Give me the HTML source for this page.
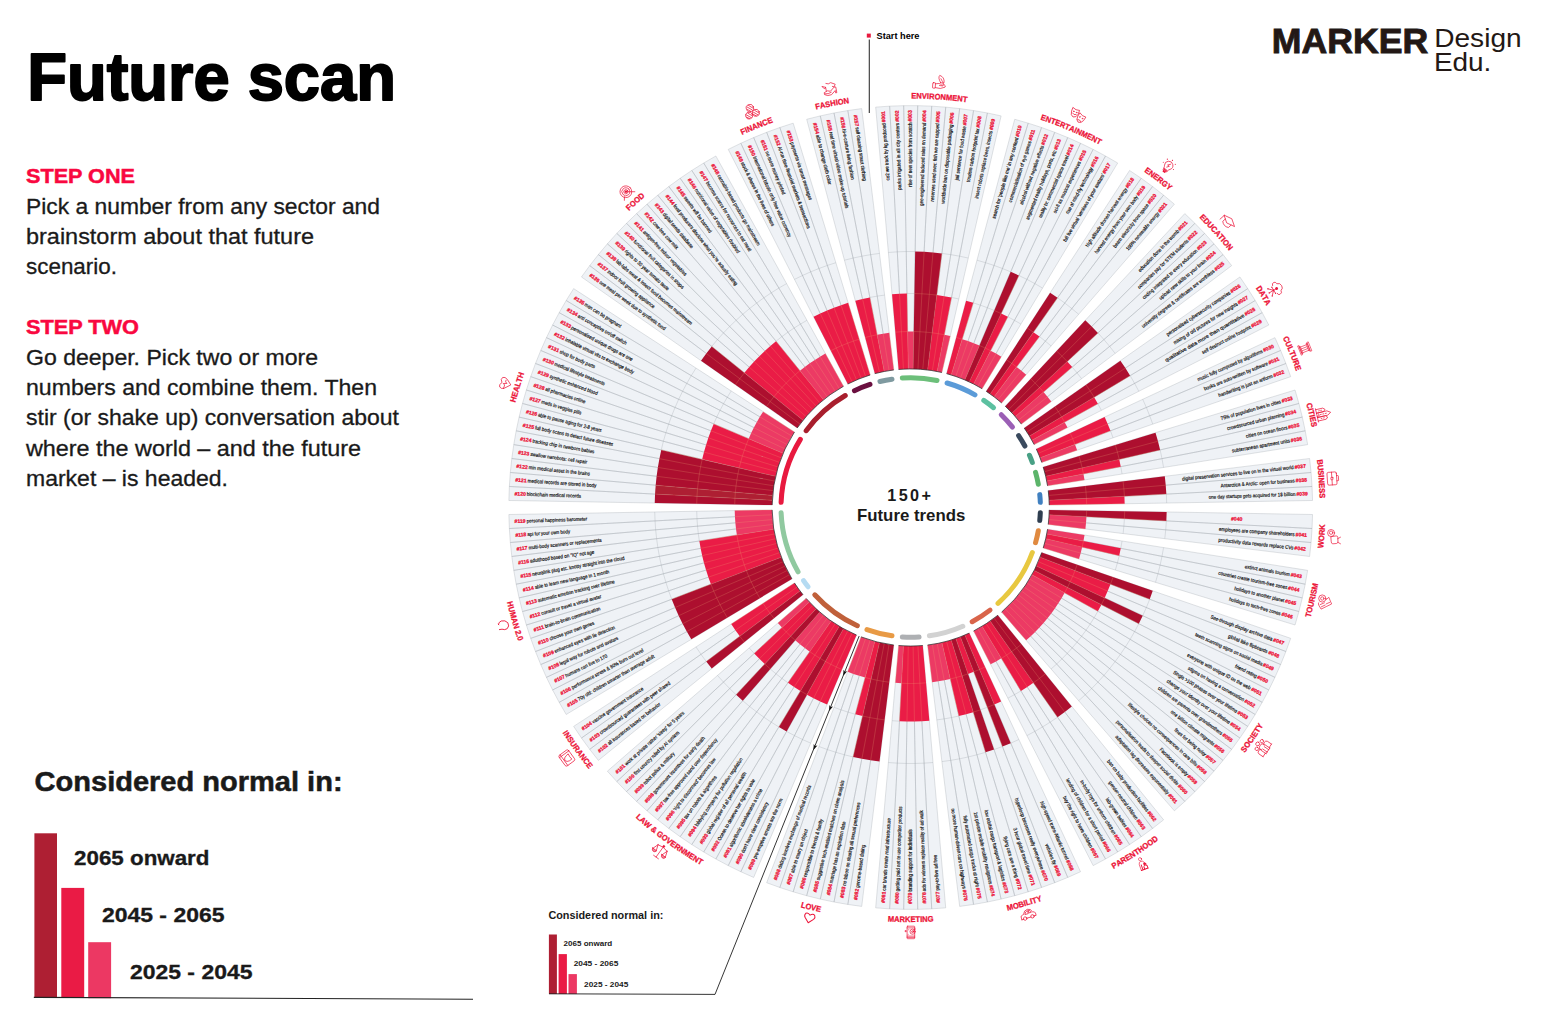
<!DOCTYPE html>
<html lang="en"><head><meta charset="utf-8"><title>Future scan</title>
<style>
html,body{margin:0;padding:0;background:#fff;}
body{width:1544px;height:1022px;overflow:hidden;font-family:"Liberation Sans",sans-serif;}
svg{display:block;font-family:"Liberation Sans",sans-serif;}
.lab .n{font-size:5.1px;font-weight:700;fill:#ec1237;stroke:#ec1237;stroke-width:0.26px;}
.lab .t{font-size:5.1px;fill:#111;stroke:#111;stroke-width:0.18px;}
.sn{font-size:8px;font-weight:700;fill:#ec1237;stroke:#ec1237;stroke-width:0.28px;}
.ic{fill:none;stroke:#ec1237;stroke-width:0.68;stroke-linecap:round;stroke-linejoin:round;}
</style></head><body>
<svg width="1544" height="1022" viewBox="0 0 1544 1022">
<rect width="1544" height="1022" fill="#fff"/>
<g id="chart">
<path d="M898.62,369.43 L875.67,107.13 L889.67,106.15 L903.45,369.09Z M903.45,369.09 L889.67,106.15 L903.69,105.66 L908.28,368.92Z M908.28,368.92 L903.69,105.66 L917.71,105.66 L913.12,368.92Z M913.12,368.92 L917.71,105.66 L931.73,106.15 L917.95,369.09Z M917.95,369.09 L931.73,106.15 L945.73,107.13 L922.78,369.43Z M922.78,369.43 L945.73,107.13 L959.68,108.6 L927.59,369.93Z M927.59,369.93 L959.68,108.6 L973.57,110.55 L932.38,370.61Z M932.38,370.61 L973.57,110.55 L987.39,112.98 L937.15,371.45Z M937.15,371.45 L987.39,112.98 L1001.11,115.9 L941.88,372.45Z M946.57,373.62 L1014.72,119.29 L1028.2,123.16 L951.22,374.96Z M951.22,374.96 L1028.2,123.16 L1041.55,127.5 L955.82,376.45Z M955.82,376.45 L1041.55,127.5 L1054.73,132.29 L960.37,378.11Z M960.37,378.11 L1054.73,132.29 L1067.73,137.55 L964.86,379.92Z M964.86,379.92 L1067.73,137.55 L1080.55,143.25 L969.27,381.89Z M969.27,381.89 L1080.55,143.25 L1093.16,149.4 L973.62,384.01Z M973.62,384.01 L1093.16,149.4 L1105.54,155.99 L977.89,386.28Z M977.89,386.28 L1105.54,155.99 L1117.69,163 L982.08,388.7Z M986.19,391.26 L1129.59,170.44 L1141.22,178.28 L990.2,393.97Z M990.2,393.97 L1141.22,178.28 L1152.57,186.53 L994.11,396.81Z M994.11,396.81 L1152.57,186.53 L1163.62,195.17 L997.92,399.79Z M997.92,399.79 L1163.62,195.17 L1174.37,204.18 L1001.63,402.9Z M1005.22,406.13 L1184.8,213.57 L1194.89,223.31 L1008.7,409.5Z M1008.7,409.5 L1194.89,223.31 L1204.63,233.4 L1012.07,412.98Z M1012.07,412.98 L1204.63,233.4 L1214.02,243.83 L1015.3,416.57Z M1015.3,416.57 L1214.02,243.83 L1223.03,254.58 L1018.41,420.28Z M1018.41,420.28 L1223.03,254.58 L1231.67,265.63 L1021.39,424.09Z M1024.23,428 L1239.92,276.98 L1247.76,288.61 L1026.94,432.01Z M1026.94,432.01 L1247.76,288.61 L1255.2,300.51 L1029.5,436.12Z M1029.5,436.12 L1255.2,300.51 L1262.21,312.66 L1031.92,440.31Z M1031.92,440.31 L1262.21,312.66 L1268.8,325.04 L1034.19,444.58Z M1036.31,448.93 L1274.95,337.65 L1280.65,350.47 L1038.28,453.34Z M1038.28,453.34 L1280.65,350.47 L1285.91,363.47 L1040.09,457.83Z M1040.09,457.83 L1285.91,363.47 L1290.7,376.65 L1041.75,462.38Z M1043.24,466.98 L1295.04,390 L1298.91,403.48 L1044.58,471.63Z M1044.58,471.63 L1298.91,403.48 L1302.3,417.09 L1045.75,476.32Z M1045.75,476.32 L1302.3,417.09 L1305.22,430.81 L1046.75,481.05Z M1046.75,481.05 L1305.22,430.81 L1307.65,444.63 L1047.59,485.82Z M1048.27,490.61 L1309.6,458.52 L1311.07,472.47 L1048.77,495.42Z M1048.77,495.42 L1311.07,472.47 L1312.05,486.47 L1049.11,500.25Z M1049.11,500.25 L1312.05,486.47 L1312.54,500.49 L1049.28,505.08Z M1049.28,509.92 L1312.54,514.51 L1312.05,528.53 L1049.11,514.75Z M1049.11,514.75 L1312.05,528.53 L1311.07,542.53 L1048.77,519.58Z M1048.77,519.58 L1311.07,542.53 L1309.6,556.48 L1048.27,524.39Z M1047.59,529.18 L1307.65,570.37 L1305.22,584.19 L1046.75,533.95Z M1046.75,533.95 L1305.22,584.19 L1302.3,597.91 L1045.75,538.68Z M1045.75,538.68 L1302.3,597.91 L1298.91,611.52 L1044.58,543.37Z M1044.58,543.37 L1298.91,611.52 L1295.04,625 L1043.24,548.02Z M1041.75,552.62 L1290.7,638.35 L1285.91,651.53 L1040.09,557.17Z M1040.09,557.17 L1285.91,651.53 L1280.65,664.53 L1038.28,561.66Z M1038.28,561.66 L1280.65,664.53 L1274.95,677.35 L1036.31,566.07Z M1036.31,566.07 L1274.95,677.35 L1268.8,689.96 L1034.19,570.42Z M1034.19,570.42 L1268.8,689.96 L1262.21,702.34 L1031.92,574.69Z M1031.92,574.69 L1262.21,702.34 L1255.2,714.49 L1029.5,578.88Z M1029.5,578.88 L1255.2,714.49 L1247.76,726.39 L1026.94,582.99Z M1026.94,582.99 L1247.76,726.39 L1239.92,738.02 L1024.23,587Z M1024.23,587 L1239.92,738.02 L1231.67,749.37 L1021.39,590.91Z M1021.39,590.91 L1231.67,749.37 L1223.03,760.42 L1018.41,594.72Z M1018.41,594.72 L1223.03,760.42 L1214.02,771.17 L1015.3,598.43Z M1015.3,598.43 L1214.02,771.17 L1204.63,781.6 L1012.07,602.02Z M1012.07,602.02 L1204.63,781.6 L1194.89,791.69 L1008.7,605.5Z M1008.7,605.5 L1194.89,791.69 L1184.8,801.43 L1005.22,608.87Z M1005.22,608.87 L1184.8,801.43 L1174.37,810.82 L1001.63,612.1Z M997.92,615.21 L1163.62,819.83 L1152.57,828.47 L994.11,618.19Z M994.11,618.19 L1152.57,828.47 L1141.22,836.72 L990.2,621.03Z M990.2,621.03 L1141.22,836.72 L1129.59,844.56 L986.19,623.74Z M986.19,623.74 L1129.59,844.56 L1117.69,852 L982.08,626.3Z M982.08,626.3 L1117.69,852 L1105.54,859.01 L977.89,628.72Z M977.89,628.72 L1105.54,859.01 L1093.16,865.6 L973.62,630.99Z M969.27,633.11 L1080.55,871.75 L1067.73,877.45 L964.86,635.08Z M964.86,635.08 L1067.73,877.45 L1054.73,882.71 L960.37,636.89Z M960.37,636.89 L1054.73,882.71 L1041.55,887.5 L955.82,638.55Z M955.82,638.55 L1041.55,887.5 L1028.2,891.84 L951.22,640.04Z M951.22,640.04 L1028.2,891.84 L1014.72,895.71 L946.57,641.38Z M946.57,641.38 L1014.72,895.71 L1001.11,899.1 L941.88,642.55Z M941.88,642.55 L1001.11,899.1 L987.39,902.02 L937.15,643.55Z M937.15,643.55 L987.39,902.02 L973.57,904.45 L932.38,644.39Z M932.38,644.39 L973.57,904.45 L959.68,906.4 L927.59,645.07Z M922.78,645.57 L945.73,907.87 L931.73,908.85 L917.95,645.91Z M917.95,645.91 L931.73,908.85 L917.71,909.34 L913.12,646.08Z M913.12,646.08 L917.71,909.34 L903.69,909.34 L908.28,646.08Z M908.28,646.08 L903.69,909.34 L889.67,908.85 L903.45,645.91Z M903.45,645.91 L889.67,908.85 L875.67,907.87 L898.62,645.57Z M893.81,645.07 L861.72,906.4 L847.83,904.45 L889.02,644.39Z M889.02,644.39 L847.83,904.45 L834.01,902.02 L884.25,643.55Z M884.25,643.55 L834.01,902.02 L820.29,899.1 L879.52,642.55Z M879.52,642.55 L820.29,899.1 L806.68,895.71 L874.83,641.38Z M874.83,641.38 L806.68,895.71 L793.2,891.84 L870.18,640.04Z M870.18,640.04 L793.2,891.84 L779.85,887.5 L865.58,638.55Z M865.58,638.55 L779.85,887.5 L766.67,882.71 L861.03,636.89Z M856.54,635.08 L753.67,877.45 L740.85,871.75 L852.13,633.11Z M852.13,633.11 L740.85,871.75 L728.24,865.6 L847.78,630.99Z M847.78,630.99 L728.24,865.6 L715.86,859.01 L843.51,628.72Z M843.51,628.72 L715.86,859.01 L703.71,852 L839.32,626.3Z M839.32,626.3 L703.71,852 L691.81,844.56 L835.21,623.74Z M835.21,623.74 L691.81,844.56 L680.18,836.72 L831.2,621.03Z M831.2,621.03 L680.18,836.72 L668.83,828.47 L827.29,618.19Z M827.29,618.19 L668.83,828.47 L657.78,819.83 L823.48,615.21Z M823.48,615.21 L657.78,819.83 L647.03,810.82 L819.77,612.1Z M819.77,612.1 L647.03,810.82 L636.6,801.43 L816.18,608.87Z M816.18,608.87 L636.6,801.43 L626.51,791.69 L812.7,605.5Z M812.7,605.5 L626.51,791.69 L616.77,781.6 L809.33,602.02Z M809.33,602.02 L616.77,781.6 L607.38,771.17 L806.1,598.43Z M802.99,594.72 L598.37,760.42 L589.73,749.37 L800.01,590.91Z M800.01,590.91 L589.73,749.37 L581.48,738.02 L797.17,587Z M797.17,587 L581.48,738.02 L573.64,726.39 L794.46,582.99Z M791.9,578.88 L566.2,714.49 L559.19,702.34 L789.48,574.69Z M789.48,574.69 L559.19,702.34 L552.6,689.96 L787.21,570.42Z M787.21,570.42 L552.6,689.96 L546.45,677.35 L785.09,566.07Z M785.09,566.07 L546.45,677.35 L540.75,664.53 L783.12,561.66Z M783.12,561.66 L540.75,664.53 L535.49,651.53 L781.31,557.17Z M781.31,557.17 L535.49,651.53 L530.7,638.35 L779.65,552.62Z M779.65,552.62 L530.7,638.35 L526.36,625 L778.16,548.02Z M778.16,548.02 L526.36,625 L522.49,611.52 L776.82,543.37Z M776.82,543.37 L522.49,611.52 L519.1,597.91 L775.65,538.68Z M775.65,538.68 L519.1,597.91 L516.18,584.19 L774.65,533.95Z M774.65,533.95 L516.18,584.19 L513.75,570.37 L773.81,529.18Z M773.81,529.18 L513.75,570.37 L511.8,556.48 L773.13,524.39Z M773.13,524.39 L511.8,556.48 L510.33,542.53 L772.63,519.58Z M772.63,519.58 L510.33,542.53 L509.35,528.53 L772.29,514.75Z M772.29,514.75 L509.35,528.53 L508.86,514.51 L772.12,509.92Z M772.12,505.08 L508.86,500.49 L509.35,486.47 L772.29,500.25Z M772.29,500.25 L509.35,486.47 L510.33,472.47 L772.63,495.42Z M772.63,495.42 L510.33,472.47 L511.8,458.52 L773.13,490.61Z M773.13,490.61 L511.8,458.52 L513.75,444.63 L773.81,485.82Z M773.81,485.82 L513.75,444.63 L516.18,430.81 L774.65,481.05Z M774.65,481.05 L516.18,430.81 L519.1,417.09 L775.65,476.32Z M775.65,476.32 L519.1,417.09 L522.49,403.48 L776.82,471.63Z M776.82,471.63 L522.49,403.48 L526.36,390 L778.16,466.98Z M778.16,466.98 L526.36,390 L530.7,376.65 L779.65,462.38Z M779.65,462.38 L530.7,376.65 L535.49,363.47 L781.31,457.83Z M781.31,457.83 L535.49,363.47 L540.75,350.47 L783.12,453.34Z M783.12,453.34 L540.75,350.47 L546.45,337.65 L785.09,448.93Z M785.09,448.93 L546.45,337.65 L552.6,325.04 L787.21,444.58Z M787.21,444.58 L552.6,325.04 L559.19,312.66 L789.48,440.31Z M789.48,440.31 L559.19,312.66 L566.2,300.51 L791.9,436.12Z M791.9,436.12 L566.2,300.51 L573.64,288.61 L794.46,432.01Z M797.17,428 L581.48,276.98 L589.73,265.63 L800.01,424.09Z M800.01,424.09 L589.73,265.63 L598.37,254.58 L802.99,420.28Z M802.99,420.28 L598.37,254.58 L607.38,243.83 L806.1,416.57Z M806.1,416.57 L607.38,243.83 L616.77,233.4 L809.33,412.98Z M809.33,412.98 L616.77,233.4 L626.51,223.31 L812.7,409.5Z M812.7,409.5 L626.51,223.31 L636.6,213.57 L816.18,406.13Z M816.18,406.13 L636.6,213.57 L647.03,204.18 L819.77,402.9Z M819.77,402.9 L647.03,204.18 L657.78,195.17 L823.48,399.79Z M823.48,399.79 L657.78,195.17 L668.83,186.53 L827.29,396.81Z M827.29,396.81 L668.83,186.53 L680.18,178.28 L831.2,393.97Z M831.2,393.97 L680.18,178.28 L691.81,170.44 L835.21,391.26Z M835.21,391.26 L691.81,170.44 L703.71,163 L839.32,388.7Z M839.32,388.7 L703.71,163 L715.86,155.99 L843.51,386.28Z M847.78,384.01 L728.24,149.4 L740.85,143.25 L852.13,381.89Z M852.13,381.89 L740.85,143.25 L753.67,137.55 L856.54,379.92Z M856.54,379.92 L753.67,137.55 L766.67,132.29 L861.03,378.11Z M861.03,378.11 L766.67,132.29 L779.85,127.5 L865.58,376.45Z M865.58,376.45 L779.85,127.5 L793.2,123.16 L870.18,374.96Z M874.83,373.62 L806.68,119.29 L820.29,115.9 L879.52,372.45Z M879.52,372.45 L820.29,115.9 L834.01,112.98 L884.25,371.45Z M884.25,371.45 L834.01,112.98 L847.83,110.55 L889.02,370.61Z M889.02,370.61 L847.83,110.55 L861.72,108.6 L893.81,369.93Z" fill="#eff2f6" stroke="#a0a6ad" stroke-width="0.32"/>
<path d="M888.39,252.47 L897.3,251.85 M897.3,251.85 L906.23,251.54 M906.97,293.53 L914.43,293.53 M906.23,251.54 L915.17,251.54 M941.9,253.41 L950.75,254.65 M950.75,254.65 L959.55,256.2 M951.53,297.43 L958.84,298.98 M959.55,256.2 L968.29,258.06 M976.96,260.22 L985.55,262.69 M973.27,302.85 L980.37,305.16 M985.55,262.69 L994.05,265.45 M980.37,305.16 L987.39,307.71 M994.05,265.45 L1002.44,268.5 M987.39,307.71 L994.32,310.51 M1002.44,268.5 L1010.73,271.85 M1018.89,275.49 L1026.92,279.4 M1007.85,316.82 L1014.45,320.33 M1026.92,279.4 L1034.81,283.6 M1014.45,320.33 L1020.92,324.07 M1034.81,283.6 L1042.55,288.07 M1057.54,297.8 L1064.76,303.05 M1039.49,336.59 L1045.37,341.19 M1064.76,303.05 L1071.81,308.55 M1045.37,341.19 L1051.1,345.99 M1071.81,308.55 L1078.65,314.29 M1097.93,332.91 L1103.91,339.55 M1072.21,367.1 L1077.01,372.83 M1103.91,339.55 L1109.65,346.39 M1077.01,372.83 L1081.61,378.71 M1109.65,346.39 L1115.15,353.44 M1130.13,375.65 L1134.6,383.39 M1097.87,403.75 L1101.38,410.35 M1134.6,383.39 L1138.8,391.28 M1142.71,399.31 L1146.35,407.47 M1146.35,407.47 L1149.7,415.76 M1110.49,430.81 L1113.04,437.83 M1149.7,415.76 L1152.75,424.15 M1160.14,449.91 L1162,458.65 M1120.77,466.67 L1122.07,474.02 M1162,458.65 L1163.55,467.45 M1166.35,494.1 L1166.66,503.03 M1124.41,518.7 L1123.89,526.15 M1166.35,520.9 L1165.73,529.81 M1123.89,526.15 L1123.1,533.58 M1165.73,529.81 L1164.79,538.7 M1122.07,540.98 L1120.77,548.33 M1163.55,547.55 L1162,556.35 M1162,556.35 L1160.14,565.09 M1119.22,555.64 L1117.41,562.89 M1160.14,565.09 L1157.98,573.76 M1117.41,562.89 L1115.35,570.07 M1157.98,573.76 L1155.51,582.35 M1149.7,599.24 L1146.35,607.53 M1146.35,607.53 L1142.71,615.69 M1138.8,623.72 L1134.6,631.61 M1097.87,611.25 L1094.13,617.72 M1134.6,631.61 L1130.13,639.35 M1094.13,617.72 L1090.18,624.05 M1130.13,639.35 L1125.4,646.93 M1090.18,624.05 L1086,630.25 M1125.4,646.93 L1120.4,654.34 M1086,630.25 L1081.61,636.29 M1120.4,654.34 L1115.15,661.56 M1081.61,636.29 L1077.01,642.17 M1115.15,661.56 L1109.65,668.61 M1077.01,642.17 L1072.21,647.9 M1109.65,668.61 L1103.91,675.45 M1072.21,647.9 L1067.21,653.45 M1103.91,675.45 L1097.93,682.09 M1067.21,653.45 L1062.02,658.82 M1097.93,682.09 L1091.72,688.52 M1062.02,658.82 L1056.65,664.01 M1091.72,688.52 L1085.29,694.73 M1056.65,664.01 L1051.1,669.01 M1085.29,694.73 L1078.65,700.71 M1057.54,717.2 L1050.13,722.2 M1050.13,722.2 L1042.55,726.93 M1020.92,690.93 L1014.45,694.67 M1042.55,726.93 L1034.81,731.4 M1014.45,694.67 L1007.85,698.18 M1034.81,731.4 L1026.92,735.6 M1018.89,739.51 L1010.73,743.15 M987.39,707.29 L980.37,709.84 M1002.44,746.5 L994.05,749.55 M985.55,752.31 L976.96,754.78 M976.96,754.78 L968.29,756.94 M958.84,716.02 L951.53,717.57 M968.29,756.94 L959.55,758.8 M951.53,717.57 L944.18,718.87 M959.55,758.8 L950.75,760.35 M944.18,718.87 L936.78,719.9 M950.75,760.35 L941.9,761.59 M933.01,762.53 L924.1,763.15 M924.1,763.15 L915.17,763.46 M915.17,763.46 L906.23,763.46 M906.23,763.46 L897.3,763.15 M899.5,721.21 L892.05,720.69 M897.3,763.15 L888.39,762.53 M853.11,756.94 L844.44,754.78 M855.31,714.21 L848.13,712.15 M844.44,754.78 L835.85,752.31 M848.13,712.15 L841.03,709.84 M835.85,752.31 L827.35,749.55 M841.03,709.84 L834.01,707.29 M827.35,749.55 L818.96,746.5 M810.67,743.15 L802.51,739.51 M802.51,739.51 L794.48,735.6 M794.48,735.6 L786.59,731.4 M778.85,726.93 L771.27,722.2 M771.27,722.2 L763.86,717.2 M787.95,682.8 L781.91,678.41 M763.86,717.2 L756.64,711.95 M781.91,678.41 L776.03,673.81 M756.64,711.95 L749.59,706.45 M776.03,673.81 L770.3,669.01 M749.59,706.45 L742.75,700.71 M736.11,694.73 L729.68,688.52 M729.68,688.52 L723.47,682.09 M754.19,653.45 L749.19,647.9 M723.47,682.09 L717.49,675.45 M706.25,661.56 L701,654.34 M701,654.34 L696,646.93 M671.7,599.24 L668.65,590.85 M668.65,590.85 L665.89,582.35 M665.89,582.35 L663.42,573.76 M663.42,573.76 L661.26,565.09 M661.26,565.09 L659.4,556.35 M659.4,556.35 L657.85,547.55 M699.33,540.98 L698.3,533.58 M657.85,547.55 L656.61,538.7 M698.3,533.58 L697.51,526.15 M656.61,538.7 L655.67,529.81 M697.51,526.15 L696.99,518.7 M655.67,529.81 L655.05,520.9 M696.99,518.7 L696.73,511.23 M655.05,520.9 L654.74,511.97 M661.26,449.91 L663.42,441.24 M663.42,441.24 L665.89,432.65 M665.89,432.65 L668.65,424.15 M668.65,424.15 L671.7,415.76 M671.7,415.76 L675.05,407.47 M713.71,423.88 L716.75,417.06 M675.05,407.47 L678.69,399.31 M716.75,417.06 L720.02,410.35 M678.69,399.31 L682.6,391.28 M720.02,410.35 L723.53,403.75 M682.6,391.28 L686.8,383.39 M723.53,403.75 L727.27,397.28 M686.8,383.39 L691.27,375.65 M727.27,397.28 L731.22,390.95 M691.27,375.65 L696,368.07 M711.75,346.39 L717.49,339.55 M717.49,339.55 L723.47,332.91 M723.47,332.91 L729.68,326.48 M729.68,326.48 L736.11,320.27 M736.11,320.27 L742.75,314.29 M742.75,314.29 L749.59,308.55 M776.03,341.19 L781.91,336.59 M749.59,308.55 L756.64,303.05 M781.91,336.59 L787.95,332.2 M756.64,303.05 L763.86,297.8 M787.95,332.2 L794.15,328.02 M763.86,297.8 L771.27,292.8 M794.15,328.02 L800.48,324.07 M771.27,292.8 L778.85,288.07 M800.48,324.07 L806.95,320.33 M778.85,288.07 L786.59,283.6 M794.48,279.4 L802.51,275.49 M802.51,275.49 L810.67,271.85 M810.67,271.85 L818.96,268.5 M818.96,268.5 L827.35,265.45 M827.35,265.45 L835.85,262.69 M844.44,260.22 L853.11,258.06 M853.11,258.06 L861.85,256.2 M869.87,297.43 L877.22,296.13 M861.85,256.2 L870.65,254.65 M877.22,296.13 L884.62,295.1 M870.65,254.65 L879.5,253.41" fill="none" stroke="#a0a6ad" stroke-width="0.32"/>
<path d="M908.28,368.92 L907.63,331.53 L913.77,331.53 L913.12,368.92Z M937.15,371.45 L944.28,334.73 L950.29,336.01 L941.88,372.45Z M951.22,374.96 L962.16,339.19 L968,341.09 L955.82,376.45Z M955.82,376.45 L968,341.09 L973.77,343.19 L960.37,378.11Z M960.37,378.11 L973.77,343.19 L979.47,345.49 L964.86,379.92Z M973.62,384.01 L990.6,350.68 L996.03,353.57 L977.89,386.28Z M977.89,386.28 L996.03,353.57 L1001.35,356.64 L982.08,388.7Z M994.11,396.81 L1016.62,366.94 L1021.46,370.72 L997.92,399.79Z M997.92,399.79 L1021.46,370.72 L1026.17,374.67 L1001.63,402.9Z M1015.3,416.57 L1043.53,392.03 L1047.48,396.74 L1018.41,420.28Z M1018.41,420.28 L1047.48,396.74 L1051.26,401.58 L1021.39,424.09Z M1031.92,440.31 L1064.63,422.17 L1067.52,427.6 L1034.19,444.58Z M1040.09,457.83 L1075.01,444.43 L1077.11,450.2 L1041.75,462.38Z M1046.75,481.05 L1083.47,473.92 L1084.53,479.97 L1047.59,485.82Z M1049.11,514.75 L1086.46,516.71 L1086.03,522.84 L1048.77,519.58Z M1048.77,519.58 L1086.03,522.84 L1085.39,528.95 L1048.27,524.39Z M1047.59,529.18 L1084.53,535.03 L1083.47,541.08 L1046.75,533.95Z M1045.75,538.68 L1082.19,547.09 L1080.7,553.05 L1044.58,543.37Z M1044.58,543.37 L1080.7,553.05 L1079.01,558.96 L1043.24,548.02Z M1031.92,574.69 L1064.63,592.83 L1061.56,598.15 L1029.5,578.88Z M1029.5,578.88 L1061.56,598.15 L1058.31,603.36 L1026.94,582.99Z M1026.94,582.99 L1058.31,603.36 L1054.87,608.45 L1024.23,587Z M1024.23,587 L1054.87,608.45 L1051.26,613.42 L1021.39,590.91Z M1021.39,590.91 L1051.26,613.42 L1047.48,618.26 L1018.41,594.72Z M1018.41,594.72 L1047.48,618.26 L1043.53,622.97 L1015.3,598.43Z M1015.3,598.43 L1043.53,622.97 L1039.42,627.53 L1012.07,602.02Z M1012.07,602.02 L1039.42,627.53 L1035.15,631.95 L1008.7,605.5Z M1008.7,605.5 L1035.15,631.95 L1030.73,636.22 L1005.22,608.87Z M1005.22,608.87 L1030.73,636.22 L1026.17,640.33 L1001.63,612.1Z M982.08,626.3 L1001.35,658.36 L996.03,661.43 L977.89,628.72Z M977.89,628.72 L996.03,661.43 L990.6,664.32 L973.62,630.99Z M941.88,642.55 L950.29,678.99 L944.28,680.27 L937.15,643.55Z M937.15,643.55 L944.28,680.27 L938.23,681.33 L932.38,644.39Z M932.38,644.39 L938.23,681.33 L932.15,682.19 L927.59,645.07Z M903.45,645.91 L901.49,683.26 L895.36,682.83 L898.62,645.57Z M874.83,641.38 L865.15,677.5 L859.24,675.81 L870.18,640.04Z M870.18,640.04 L859.24,675.81 L853.4,673.91 L865.58,638.55Z M865.58,638.55 L853.4,673.91 L847.63,671.81 L861.03,636.89Z M831.2,621.03 L809.75,651.67 L804.78,648.06 L827.29,618.19Z M827.29,618.19 L804.78,648.06 L799.94,644.28 L823.48,615.21Z M823.48,615.21 L799.94,644.28 L795.23,640.33 L819.77,612.1Z M809.33,602.02 L781.98,627.53 L777.87,622.97 L806.1,598.43Z M773.81,529.18 L736.87,535.03 L736.01,528.95 L773.13,524.39Z M773.13,524.39 L736.01,528.95 L735.37,522.84 L772.63,519.58Z M772.63,519.58 L735.37,522.84 L734.94,516.71 L772.29,514.75Z M772.29,514.75 L734.94,516.71 L734.73,510.57 L772.12,509.92Z M783.12,453.34 L748.69,438.73 L751.19,433.12 L785.09,448.93Z M785.09,448.93 L751.19,433.12 L753.88,427.6 L787.21,444.58Z M787.21,444.58 L753.88,427.6 L756.77,422.17 L789.48,440.31Z M789.48,440.31 L756.77,422.17 L759.84,416.85 L791.9,436.12Z M791.9,436.12 L759.84,416.85 L763.09,411.64 L794.46,432.01Z M823.48,399.79 L799.94,370.72 L804.78,366.94 L827.29,396.81Z M827.29,396.81 L804.78,366.94 L809.75,363.33 L831.2,393.97Z M831.2,393.97 L809.75,363.33 L814.84,359.89 L835.21,391.26Z M835.21,391.26 L814.84,359.89 L820.05,356.64 L839.32,388.7Z M839.32,388.7 L820.05,356.64 L825.37,353.57 L843.51,386.28Z M884.25,371.45 L877.12,334.73 L883.17,333.67 L889.02,370.61Z M889.02,370.61 L883.17,333.67 L889.25,332.81 L893.81,369.93Z" fill="#ec3a64"/>
<path d="M898.62,369.43 L892.05,294.31 L899.5,293.79 L903.45,369.09Z M903.45,369.09 L899.5,293.79 L906.97,293.53 L908.28,368.92Z M927.59,369.93 L936.78,295.1 L944.18,296.13 L932.38,370.61Z M932.38,370.61 L944.18,296.13 L951.53,297.43 L937.15,371.45Z M946.57,373.62 L966.09,300.79 L973.27,302.85 L951.22,374.96Z M969.27,381.89 L1001.14,313.55 L1007.85,316.82 L973.62,384.01Z M990.2,393.97 L1033.45,332.2 L1039.49,336.59 L994.11,396.81Z M1012.07,412.98 L1067.21,361.55 L1072.21,367.1 L1015.3,416.57Z M1029.5,436.12 L1094.13,397.28 L1097.87,403.75 L1031.92,440.31Z M1036.31,448.93 L1104.65,417.06 L1107.69,423.88 L1038.28,453.34Z M1038.28,453.34 L1107.69,423.88 L1110.49,430.81 L1040.09,457.83Z M1045.75,476.32 L1119.22,459.36 L1120.77,466.67 L1046.75,481.05Z M1049.11,500.25 L1124.41,496.3 L1124.67,503.77 L1049.28,505.08Z M1046.75,533.95 L1120.77,548.33 L1119.22,555.64 L1045.75,538.68Z M1040.09,557.17 L1110.49,584.19 L1107.69,591.12 L1038.28,561.66Z M1038.28,561.66 L1107.69,591.12 L1104.65,597.94 L1036.31,566.07Z M1034.19,570.42 L1101.38,604.65 L1097.87,611.25 L1031.92,574.69Z M990.2,621.03 L1033.45,682.8 L1027.25,686.98 L986.19,623.74Z M986.19,623.74 L1027.25,686.98 L1020.92,690.93 L982.08,626.3Z M969.27,633.11 L1001.14,701.45 L994.32,704.49 L964.86,635.08Z M960.37,636.89 L973.77,671.81 L968,673.91 L955.82,638.55Z M951.22,640.04 L973.27,712.15 L966.09,714.21 L946.57,641.38Z M946.57,641.38 L966.09,714.21 L958.84,716.02 L941.88,642.55Z M922.78,645.57 L929.35,720.69 L921.9,721.21 L917.95,645.91Z M917.95,645.91 L921.9,721.21 L914.43,721.47 L913.12,646.08Z M913.12,646.08 L914.43,721.47 L906.97,721.47 L908.28,646.08Z M908.28,646.08 L906.97,721.47 L899.5,721.21 L903.45,645.91Z M879.52,642.55 L862.56,716.02 L855.31,714.21 L874.83,641.38Z M856.54,635.08 L827.08,704.49 L820.26,701.45 L852.13,633.11Z M852.13,633.11 L820.26,701.45 L813.55,698.18 L847.78,630.99Z M847.78,630.99 L813.55,698.18 L806.95,694.67 L843.51,628.72Z M839.32,626.3 L800.48,690.93 L794.15,686.98 L835.21,623.74Z M835.21,623.74 L794.15,686.98 L787.95,682.8 L831.2,621.03Z M816.18,608.87 L764.75,664.01 L759.38,658.82 L812.7,605.5Z M812.7,605.5 L759.38,658.82 L754.19,653.45 L809.33,602.02Z M800.01,590.91 L739.79,636.29 L735.4,630.25 L797.17,587Z M797.17,587 L735.4,630.25 L731.22,624.05 L794.46,582.99Z M781.31,557.17 L710.91,584.19 L708.36,577.17 L779.65,552.62Z M779.65,552.62 L708.36,577.17 L706.05,570.07 L778.16,548.02Z M778.16,548.02 L706.05,570.07 L703.99,562.89 L776.82,543.37Z M776.82,543.37 L703.99,562.89 L702.18,555.64 L775.65,538.68Z M775.65,538.68 L702.18,555.64 L700.63,548.33 L774.65,533.95Z M774.65,533.95 L700.63,548.33 L699.33,540.98 L773.81,529.18Z M775.65,476.32 L702.18,459.36 L703.99,452.11 L776.82,471.63Z M776.82,471.63 L703.99,452.11 L706.05,444.93 L778.16,466.98Z M778.16,466.98 L706.05,444.93 L708.36,437.83 L779.65,462.38Z M779.65,462.38 L708.36,437.83 L710.91,430.81 L781.31,457.83Z M781.31,457.83 L710.91,430.81 L713.71,423.88 L783.12,453.34Z M802.99,420.28 L744.39,372.83 L749.19,367.1 L806.1,416.57Z M806.1,416.57 L749.19,367.1 L754.19,361.55 L809.33,412.98Z M809.33,412.98 L754.19,361.55 L759.38,356.18 L812.7,409.5Z M812.7,409.5 L759.38,356.18 L764.75,350.99 L816.18,406.13Z M816.18,406.13 L764.75,350.99 L770.3,345.99 L819.77,402.9Z M819.77,402.9 L770.3,345.99 L776.03,341.19 L823.48,399.79Z M847.78,384.01 L813.55,316.82 L820.26,313.55 L852.13,381.89Z M852.13,381.89 L820.26,313.55 L827.08,310.51 L856.54,379.92Z M856.54,379.92 L827.08,310.51 L834.01,307.71 L861.03,378.11Z M861.03,378.11 L834.01,307.71 L841.03,305.16 L865.58,376.45Z M865.58,376.45 L841.03,305.16 L848.13,302.85 L870.18,374.96Z M874.83,373.62 L855.31,300.79 L862.56,298.98 L879.52,372.45Z M879.52,372.45 L862.56,298.98 L869.87,297.43 L884.25,371.45Z" fill="#ea1c46"/>
<path d="M913.12,368.92 L915.17,251.54 L924.1,251.85 L917.95,369.09Z M917.95,369.09 L924.1,251.85 L933.01,252.47 L922.78,369.43Z M922.78,369.43 L933.01,252.47 L941.9,253.41 L927.59,369.93Z M964.86,379.92 L1010.73,271.85 L1018.89,275.49 L969.27,381.89Z M986.19,391.26 L1050.13,292.8 L1057.54,297.8 L990.2,393.97Z M1005.22,406.13 L1085.29,320.27 L1091.72,326.48 L1008.7,409.5Z M1008.7,409.5 L1091.72,326.48 L1097.93,332.91 L1012.07,412.98Z M1024.23,428 L1120.4,360.66 L1125.4,368.07 L1026.94,432.01Z M1026.94,432.01 L1125.4,368.07 L1130.13,375.65 L1029.5,436.12Z M1043.24,466.98 L1155.51,432.65 L1157.98,441.24 L1044.58,471.63Z M1044.58,471.63 L1157.98,441.24 L1160.14,449.91 L1045.75,476.32Z M1048.27,490.61 L1164.79,476.3 L1165.73,485.19 L1048.77,495.42Z M1048.77,495.42 L1165.73,485.19 L1166.35,494.1 L1049.11,500.25Z M1049.28,509.92 L1166.66,511.97 L1166.35,520.9 L1049.11,514.75Z M1041.75,552.62 L1152.75,590.85 L1149.7,599.24 L1040.09,557.17Z M1036.31,566.07 L1142.71,615.69 L1138.8,623.72 L1034.19,570.42Z M997.92,615.21 L1071.81,706.45 L1064.76,711.95 L994.11,618.19Z M994.11,618.19 L1064.76,711.95 L1057.54,717.2 L990.2,621.03Z M964.86,635.08 L1010.73,743.15 L1002.44,746.5 L960.37,636.89Z M955.82,638.55 L994.05,749.55 L985.55,752.31 L951.22,640.04Z M893.81,645.07 L879.5,761.59 L870.65,760.35 L889.02,644.39Z M889.02,644.39 L870.65,760.35 L861.85,758.8 L884.25,643.55Z M884.25,643.55 L861.85,758.8 L853.11,756.94 L879.52,642.55Z M843.51,628.72 L786.59,731.4 L778.85,726.93 L839.32,626.3Z M819.77,612.1 L742.75,700.71 L736.11,694.73 L816.18,608.87Z M802.99,594.72 L711.75,668.61 L706.25,661.56 L800.01,590.91Z M791.9,578.88 L691.27,639.35 L686.8,631.61 L789.48,574.69Z M789.48,574.69 L686.8,631.61 L682.6,623.72 L787.21,570.42Z M787.21,570.42 L682.6,623.72 L678.69,615.69 L785.09,566.07Z M785.09,566.07 L678.69,615.69 L675.05,607.53 L783.12,561.66Z M783.12,561.66 L675.05,607.53 L671.7,599.24 L781.31,557.17Z M772.12,505.08 L654.74,503.03 L655.05,494.1 L772.29,500.25Z M772.63,495.42 L655.67,485.19 L656.61,476.3 L773.13,490.61Z M773.13,490.61 L656.61,476.3 L657.85,467.45 L773.81,485.82Z M773.81,485.82 L657.85,467.45 L659.4,458.65 L774.65,481.05Z M774.65,481.05 L659.4,458.65 L661.26,449.91 L775.65,476.32Z M797.17,428 L701,360.66 L706.25,353.44 L800.01,424.09Z M800.01,424.09 L706.25,353.44 L711.75,346.39 L802.99,420.28Z" fill="#ad0f2f"/>
<path d="M772.29,500.25 L655.05,494.1 L655.67,485.19 L772.63,495.42Z" fill="#ae1f33"/>
<path d="M903.45,369.09 L899.5,293.79 M908.28,368.92 L906.97,293.53 M913.12,368.92 L913.77,331.53 M917.95,369.09 L924.1,251.85 M922.78,369.43 L933.01,252.47 M927.59,369.93 L941.9,253.41 M932.38,370.61 L944.18,296.13 M937.15,371.45 L951.53,297.43 M941.88,372.45 L950.29,336.01 M951.22,374.96 L973.27,302.85 M955.82,376.45 L968,341.09 M960.37,378.11 L973.77,343.19 M964.86,379.92 L979.47,345.49 M969.27,381.89 L1018.89,275.49 M973.62,384.01 L1007.85,316.82 M977.89,386.28 L996.03,353.57 M982.08,388.7 L1001.35,356.64 M990.2,393.97 L1057.54,297.8 M994.11,396.81 L1039.49,336.59 M997.92,399.79 L1021.46,370.72 M1001.63,402.9 L1026.17,374.67 M1008.7,409.5 L1091.72,326.48 M1012.07,412.98 L1097.93,332.91 M1015.3,416.57 L1072.21,367.1 M1018.41,420.28 L1047.48,396.74 M1021.39,424.09 L1051.26,401.58 M1026.94,432.01 L1125.4,368.07 M1029.5,436.12 L1130.13,375.65 M1031.92,440.31 L1097.87,403.75 M1034.19,444.58 L1067.52,427.6 M1038.28,453.34 L1107.69,423.88 M1040.09,457.83 L1110.49,430.81 M1041.75,462.38 L1077.11,450.2 M1044.58,471.63 L1157.98,441.24 M1045.75,476.32 L1160.14,449.91 M1046.75,481.05 L1120.77,466.67 M1047.59,485.82 L1084.53,479.97 M1048.77,495.42 L1165.73,485.19 M1049.11,500.25 L1166.35,494.1 M1049.28,505.08 L1124.67,503.77 M1049.11,514.75 L1166.35,520.9 M1048.77,519.58 L1086.03,522.84 M1048.27,524.39 L1085.39,528.95 M1046.75,533.95 L1083.47,541.08 M1045.75,538.68 L1119.22,555.64 M1044.58,543.37 L1080.7,553.05 M1043.24,548.02 L1079.01,558.96 M1040.09,557.17 L1149.7,599.24 M1038.28,561.66 L1107.69,591.12 M1036.31,566.07 L1104.65,597.94 M1034.19,570.42 L1138.8,623.72 M1031.92,574.69 L1097.87,611.25 M1029.5,578.88 L1061.56,598.15 M1026.94,582.99 L1058.31,603.36 M1024.23,587 L1054.87,608.45 M1021.39,590.91 L1051.26,613.42 M1018.41,594.72 L1047.48,618.26 M1015.3,598.43 L1043.53,622.97 M1012.07,602.02 L1039.42,627.53 M1008.7,605.5 L1035.15,631.95 M1005.22,608.87 L1030.73,636.22 M1001.63,612.1 L1026.17,640.33 M994.11,618.19 L1064.76,711.95 M990.2,621.03 L1057.54,717.2 M986.19,623.74 L1027.25,686.98 M982.08,626.3 L1020.92,690.93 M977.89,628.72 L996.03,661.43 M973.62,630.99 L990.6,664.32 M964.86,635.08 L994.32,704.49 M960.37,636.89 L1002.44,746.5 M955.82,638.55 L968,673.91 M951.22,640.04 L985.55,752.31 M946.57,641.38 L966.09,714.21 M941.88,642.55 L958.84,716.02 M937.15,643.55 L944.28,680.27 M932.38,644.39 L938.23,681.33 M927.59,645.07 L932.15,682.19 M917.95,645.91 L921.9,721.21 M913.12,646.08 L914.43,721.47 M908.28,646.08 L906.97,721.47 M903.45,645.91 L899.5,721.21 M898.62,645.57 L895.36,682.83 M889.02,644.39 L870.65,760.35 M884.25,643.55 L861.85,758.8 M879.52,642.55 L853.11,756.94 M874.83,641.38 L855.31,714.21 M870.18,640.04 L859.24,675.81 M865.58,638.55 L853.4,673.91 M861.03,636.89 L847.63,671.81 M852.13,633.11 L820.26,701.45 M847.78,630.99 L813.55,698.18 M843.51,628.72 L806.95,694.67 M839.32,626.3 L778.85,726.93 M835.21,623.74 L794.15,686.98 M831.2,621.03 L787.95,682.8 M827.29,618.19 L804.78,648.06 M823.48,615.21 L799.94,644.28 M819.77,612.1 L795.23,640.33 M816.18,608.87 L736.11,694.73 M812.7,605.5 L759.38,658.82 M809.33,602.02 L754.19,653.45 M806.1,598.43 L777.87,622.97 M800.01,590.91 L706.25,661.56 M797.17,587 L735.4,630.25 M794.46,582.99 L731.22,624.05 M789.48,574.69 L686.8,631.61 M787.21,570.42 L682.6,623.72 M785.09,566.07 L678.69,615.69 M783.12,561.66 L675.05,607.53 M781.31,557.17 L671.7,599.24 M779.65,552.62 L708.36,577.17 M778.16,548.02 L706.05,570.07 M776.82,543.37 L703.99,562.89 M775.65,538.68 L702.18,555.64 M774.65,533.95 L700.63,548.33 M773.81,529.18 L699.33,540.98 M773.13,524.39 L736.01,528.95 M772.63,519.58 L735.37,522.84 M772.29,514.75 L734.94,516.71 M772.12,509.92 L734.73,510.57 M772.29,500.25 L655.05,494.1 M772.63,495.42 L655.67,485.19 M773.13,490.61 L656.61,476.3 M773.81,485.82 L657.85,467.45 M774.65,481.05 L659.4,458.65 M775.65,476.32 L661.26,449.91 M776.82,471.63 L703.99,452.11 M778.16,466.98 L706.05,444.93 M779.65,462.38 L708.36,437.83 M781.31,457.83 L710.91,430.81 M783.12,453.34 L713.71,423.88 M785.09,448.93 L751.19,433.12 M787.21,444.58 L753.88,427.6 M789.48,440.31 L756.77,422.17 M791.9,436.12 L759.84,416.85 M794.46,432.01 L763.09,411.64 M800.01,424.09 L706.25,353.44 M802.99,420.28 L711.75,346.39 M806.1,416.57 L749.19,367.1 M809.33,412.98 L754.19,361.55 M812.7,409.5 L759.38,356.18 M816.18,406.13 L764.75,350.99 M819.77,402.9 L770.3,345.99 M823.48,399.79 L776.03,341.19 M827.29,396.81 L804.78,366.94 M831.2,393.97 L809.75,363.33 M835.21,391.26 L814.84,359.89 M839.32,388.7 L820.05,356.64 M843.51,386.28 L825.37,353.57 M852.13,381.89 L820.26,313.55 M856.54,379.92 L827.08,310.51 M861.03,378.11 L834.01,307.71 M865.58,376.45 L841.03,305.16 M870.18,374.96 L848.13,302.85 M879.52,372.45 L862.56,298.98 M884.25,371.45 L869.87,297.43 M889.02,370.61 L883.17,333.67 M893.81,369.93 L889.25,332.81 M895.36,332.17 L901.49,331.74 M901.49,331.74 L907.63,331.53 M913.77,331.53 L919.91,331.74 M914.43,293.53 L921.9,293.79 M919.91,331.74 L926.04,332.17 M921.9,293.79 L929.35,294.31 M926.04,332.17 L932.15,332.81 M929.35,294.31 L936.78,295.1 M932.15,332.81 L938.23,333.67 M938.23,333.67 L944.28,334.73 M956.25,337.5 L962.16,339.19 M979.47,345.49 L985.08,347.99 M994.32,310.51 L1001.14,313.55 M985.08,347.99 L990.6,350.68 M1006.56,359.89 L1011.65,363.33 M1027.25,328.02 L1033.45,332.2 M1011.65,363.33 L1016.62,366.94 M1030.73,378.78 L1035.15,383.05 M1056.65,350.99 L1062.02,356.18 M1035.15,383.05 L1039.42,387.47 M1062.02,356.18 L1067.21,361.55 M1039.42,387.47 L1043.53,392.03 M1054.87,406.55 L1058.31,411.64 M1086,384.75 L1090.18,390.95 M1058.31,411.64 L1061.56,416.85 M1090.18,390.95 L1094.13,397.28 M1061.56,416.85 L1064.63,422.17 M1070.21,433.12 L1072.71,438.73 M1072.71,438.73 L1075.01,444.43 M1079.01,456.04 L1080.7,461.95 M1115.35,444.93 L1117.41,452.11 M1080.7,461.95 L1082.19,467.91 M1117.41,452.11 L1119.22,459.36 M1082.19,467.91 L1083.47,473.92 M1085.39,486.05 L1086.03,492.16 M1123.1,481.42 L1123.89,488.85 M1086.03,492.16 L1086.46,498.29 M1123.89,488.85 L1124.41,496.3 M1086.46,498.29 L1086.67,504.43 M1086.67,510.57 L1086.46,516.71 M1124.67,511.23 L1124.41,518.7 M1083.47,541.08 L1082.19,547.09 M1077.11,564.8 L1075.01,570.57 M1113.04,577.17 L1110.49,584.19 M1075.01,570.57 L1072.71,576.27 M1072.71,576.27 L1070.21,581.88 M1070.21,581.88 L1067.52,587.4 M1104.65,597.94 L1101.38,604.65 M1067.52,587.4 L1064.63,592.83 M1021.46,644.28 L1016.62,648.06 M1045.37,673.81 L1039.49,678.41 M1016.62,648.06 L1011.65,651.67 M1039.49,678.41 L1033.45,682.8 M1011.65,651.67 L1006.56,655.11 M1006.56,655.11 L1001.35,658.36 M985.08,667.01 L979.47,669.51 M979.47,669.51 L973.77,671.81 M994.32,704.49 L987.39,707.29 M968,673.91 L962.16,675.81 M980.37,709.84 L973.27,712.15 M962.16,675.81 L956.25,677.5 M956.25,677.5 L950.29,678.99 M926.04,682.83 L919.91,683.26 M919.91,683.26 L913.77,683.47 M913.77,683.47 L907.63,683.47 M907.63,683.47 L901.49,683.26 M889.25,682.19 L883.17,681.33 M884.62,719.9 L877.22,718.87 M883.17,681.33 L877.12,680.27 M877.22,718.87 L869.87,717.57 M877.12,680.27 L871.11,678.99 M869.87,717.57 L862.56,716.02 M871.11,678.99 L865.15,677.5 M841.93,669.51 L836.32,667.01 M836.32,667.01 L830.8,664.32 M830.8,664.32 L825.37,661.43 M825.37,661.43 L820.05,658.36 M806.95,694.67 L800.48,690.93 M820.05,658.36 L814.84,655.11 M814.84,655.11 L809.75,651.67 M795.23,640.33 L790.67,636.22 M770.3,669.01 L764.75,664.01 M790.67,636.22 L786.25,631.95 M786.25,631.95 L781.98,627.53 M773.92,618.26 L770.14,613.42 M744.39,642.17 L739.79,636.29 M770.14,613.42 L766.53,608.45 M766.53,608.45 L763.09,603.36 M759.84,598.15 L756.77,592.83 M727.27,617.72 L723.53,611.25 M756.77,592.83 L753.88,587.4 M723.53,611.25 L720.02,604.65 M753.88,587.4 L751.19,581.88 M720.02,604.65 L716.75,597.94 M751.19,581.88 L748.69,576.27 M716.75,597.94 L713.71,591.12 M748.69,576.27 L746.39,570.57 M713.71,591.12 L710.91,584.19 M746.39,570.57 L744.29,564.8 M744.29,564.8 L742.39,558.96 M742.39,558.96 L740.7,553.05 M740.7,553.05 L739.21,547.09 M739.21,547.09 L737.93,541.08 M737.93,541.08 L736.87,535.03 M734.73,504.43 L734.94,498.29 M696.73,503.77 L696.99,496.3 M734.94,498.29 L735.37,492.16 M696.99,496.3 L697.51,488.85 M735.37,492.16 L736.01,486.05 M697.51,488.85 L698.3,481.42 M736.01,486.05 L736.87,479.97 M698.3,481.42 L699.33,474.02 M736.87,479.97 L737.93,473.92 M699.33,474.02 L700.63,466.67 M737.93,473.92 L739.21,467.91 M700.63,466.67 L702.18,459.36 M739.21,467.91 L740.7,461.95 M740.7,461.95 L742.39,456.04 M742.39,456.04 L744.29,450.2 M744.29,450.2 L746.39,444.43 M746.39,444.43 L748.69,438.73 M766.53,406.55 L770.14,401.58 M735.4,384.75 L739.79,378.71 M770.14,401.58 L773.92,396.74 M739.79,378.71 L744.39,372.83 M773.92,396.74 L777.87,392.03 M777.87,392.03 L781.98,387.47 M781.98,387.47 L786.25,383.05 M786.25,383.05 L790.67,378.78 M790.67,378.78 L795.23,374.67 M795.23,374.67 L799.94,370.72 M830.8,350.68 L836.32,347.99 M836.32,347.99 L841.93,345.49 M841.93,345.49 L847.63,343.19 M847.63,343.19 L853.4,341.09 M853.4,341.09 L859.24,339.19 M865.15,337.5 L871.11,336.01 M871.11,336.01 L877.12,334.73" fill="none" stroke="#f3b07a" stroke-opacity="0.55" stroke-width="0.4"/>
<path d="M898.62,369.43 A138.6,138.6 0 0 1 941.88,372.45 M946.57,373.62 A138.6,138.6 0 0 1 982.08,388.7 M986.19,391.26 A138.6,138.6 0 0 1 1001.63,402.9 M1005.22,406.13 A138.6,138.6 0 0 1 1021.39,424.09 M1024.23,428 A138.6,138.6 0 0 1 1034.19,444.58 M1036.31,448.93 A138.6,138.6 0 0 1 1041.75,462.38 M1043.24,466.98 A138.6,138.6 0 0 1 1047.59,485.82 M1048.27,490.61 A138.6,138.6 0 0 1 1049.28,505.08 M1049.28,509.92 A138.6,138.6 0 0 1 1048.27,524.39 M1047.59,529.18 A138.6,138.6 0 0 1 1043.24,548.02 M1041.75,552.62 A138.6,138.6 0 0 1 1001.63,612.1 M997.92,615.21 A138.6,138.6 0 0 1 973.62,630.99 M969.27,633.11 A138.6,138.6 0 0 1 927.59,645.07 M922.78,645.57 A138.6,138.6 0 0 1 898.62,645.57 M893.81,645.07 A138.6,138.6 0 0 1 861.03,636.89 M856.54,635.08 A138.6,138.6 0 0 1 806.1,598.43 M802.99,594.72 A138.6,138.6 0 0 1 794.46,582.99 M791.9,578.88 A138.6,138.6 0 0 1 772.12,509.92 M772.12,505.08 A138.6,138.6 0 0 1 794.46,432.01 M797.17,428 A138.6,138.6 0 0 1 843.51,386.28 M847.78,384.01 A138.6,138.6 0 0 1 870.18,374.96 M874.83,373.62 A138.6,138.6 0 0 1 893.81,369.93" fill="none" stroke="#2a2a2a" stroke-width="0.7"/>
<g fill="none" stroke-width="5" stroke-linecap="round"><path d="M902.33,378.07 A129.7,129.7 0 0 1 937,380.49" stroke="#6cbf7a"/><path d="M947.1,383.01 A129.7,129.7 0 0 1 974.96,394.84" stroke="#5b9bd8"/><path d="M983.79,400.36 A129.7,129.7 0 0 1 993.55,407.71" stroke="#5cc0a0"/><path d="M1001.28,414.67 A129.7,129.7 0 0 1 1012.49,427.11" stroke="#9b5fb5"/><path d="M1018.6,435.54 A129.7,129.7 0 0 1 1024.9,446.01" stroke="#3a4a5e"/><path d="M1029.46,455.37 A129.7,129.7 0 0 1 1032.34,462.5" stroke="#48a085"/><path d="M1035.56,472.4 A129.7,129.7 0 0 1 1038.31,484.31" stroke="#5cb46a"/><path d="M1039.76,494.62 A129.7,129.7 0 0 1 1040.3,502.29" stroke="#4080c0"/><path d="M1040.3,512.71 A129.7,129.7 0 0 1 1039.76,520.38" stroke="#2f3e50"/><path d="M1038.31,530.69 A129.7,129.7 0 0 1 1035.56,542.6" stroke="#e08a40"/><path d="M1032.34,552.5 A129.7,129.7 0 0 1 997.99,603.43" stroke="#e8c840"/><path d="M990.02,610.12 A129.7,129.7 0 0 1 972.19,621.7" stroke="#d9644a"/><path d="M962.83,626.26 A129.7,129.7 0 0 1 929.42,635.84" stroke="#d2d2d2"/><path d="M919.07,636.93 A129.7,129.7 0 0 1 902.33,636.93" stroke="#aeb0b3"/><path d="M891.98,635.84 A129.7,129.7 0 0 1 866.98,629.61" stroke="#e89a45"/><path d="M857.33,625.71 A129.7,129.7 0 0 1 814.77,594.79" stroke="#c0603a"/><path d="M808.08,586.82 A129.7,129.7 0 0 1 803.56,580.59" stroke="#b5dbf2"/><path d="M798.04,571.76 A129.7,129.7 0 0 1 781.1,512.71" stroke="#90c9a0"/><path d="M781.1,502.29 A129.7,129.7 0 0 1 800.35,439.35" stroke="#e8193f"/><path d="M806.17,430.72 A129.7,129.7 0 0 1 845.26,395.52" stroke="#a81e2d"/><path d="M854.45,390.63 A129.7,129.7 0 0 1 869.98,384.36" stroke="#6b1040"/><path d="M879.98,381.49 A129.7,129.7 0 0 1 891.98,379.16" stroke="#7f9aa0"/></g>
<g class="lab"><g transform="translate(910.7 507.5) rotate(-94)"><text class="n" x="397.3" y="1.75" text-anchor="end">#001</text><text class="t" x="327.83" y="1.75" textLength="57.12" lengthAdjust="spacingAndGlyphs">co2 we track by kg produced</text></g><g transform="translate(910.7 507.5) rotate(-92)"><text class="n" x="397.3" y="1.75" text-anchor="end">#002</text><text class="t" x="317.7" y="1.75" textLength="67.25" lengthAdjust="spacingAndGlyphs">parks irrigated in all city centers</text></g><g transform="translate(910.7 507.5) rotate(-90)"><text class="n" x="397.3" y="1.75" text-anchor="end">#003</text><text class="t" x="320.86" y="1.75" textLength="64.1" lengthAdjust="spacingAndGlyphs">rise of new species from scratch</text></g><g transform="translate(910.7 507.5) rotate(-88)"><text class="n" x="397.3" y="1.75" text-anchor="end">#004</text><text class="t" x="301.87" y="1.75" textLength="83.08" lengthAdjust="spacingAndGlyphs">geo-engineered induced rains on demand</text></g><g transform="translate(910.7 507.5) rotate(-86)"><text class="n" x="397.3" y="1.75" text-anchor="end">#005</text><text class="t" x="306.63" y="1.75" textLength="78.33" lengthAdjust="spacingAndGlyphs">reserves used over: fish we are capped</text></g><g transform="translate(910.7 507.5) rotate(-84)"><text class="n" x="397.3" y="1.75" text-anchor="end">#006</text><text class="t" x="305.62" y="1.75" textLength="79.34" lengthAdjust="spacingAndGlyphs">worldwide ban on disposable packaging</text></g><g transform="translate(910.7 507.5) rotate(-82)"><text class="n" x="397.3" y="1.75" text-anchor="end">#007</text><text class="t" x="330.57" y="1.75" textLength="54.38" lengthAdjust="spacingAndGlyphs">jail sentence for food waste</text></g><g transform="translate(910.7 507.5) rotate(-80)"><text class="n" x="397.3" y="1.75" text-anchor="end">#008</text><text class="t" x="330.58" y="1.75" textLength="54.38" lengthAdjust="spacingAndGlyphs">tourism carbon footprint tax</text></g><g transform="translate(910.7 507.5) rotate(-78)"><text class="n" x="397.3" y="1.75" text-anchor="end">#009</text><text class="t" x="316.11" y="1.75" textLength="68.85" lengthAdjust="spacingAndGlyphs">insect robots replace bees, insects</text></g><g transform="translate(910.7 507.5) rotate(-74)"><text class="n" x="397.3" y="1.75" text-anchor="end">#010</text><text class="t" x="300.67" y="1.75" textLength="84.28" lengthAdjust="spacingAndGlyphs">search for &#x27;people like me&#x27; in any content</text></g><g transform="translate(910.7 507.5) rotate(-72)"><text class="n" x="397.3" y="1.75" text-anchor="end">#011</text><text class="t" x="321.14" y="1.75" textLength="64.1" lengthAdjust="spacingAndGlyphs">commercialisation of eye games</text></g><g transform="translate(910.7 507.5) rotate(-70)"><text class="n" x="397.3" y="1.75" text-anchor="end">#012</text><text class="t" x="322.67" y="1.75" textLength="62.29" lengthAdjust="spacingAndGlyphs">alcohol without negative effects</text></g><g transform="translate(910.7 507.5) rotate(-68)"><text class="n" x="397.3" y="1.75" text-anchor="end">#013</text><text class="t" x="310.62" y="1.75" textLength="74.34" lengthAdjust="spacingAndGlyphs">augmented reality holidays, ports, etc</text></g><g transform="translate(910.7 507.5) rotate(-66)"><text class="n" x="397.3" y="1.75" text-anchor="end">#014</text><text class="t" x="317.37" y="1.75" textLength="67.59" lengthAdjust="spacingAndGlyphs">reality tv: commercial space travel</text></g><g transform="translate(910.7 507.5) rotate(-64)"><text class="n" x="397.3" y="1.75" text-anchor="end">#015</text><text class="t" x="327.84" y="1.75" textLength="57.11" lengthAdjust="spacingAndGlyphs">sci-fi as musical experiences</text></g><g transform="translate(910.7 507.5) rotate(-62)"><text class="n" x="397.3" y="1.75" text-anchor="end">#016</text><text class="t" x="332.83" y="1.75" textLength="52.13" lengthAdjust="spacingAndGlyphs">rise of mind-fly technology</text></g><g transform="translate(910.7 507.5) rotate(-60)"><text class="n" x="397.3" y="1.75" text-anchor="end">#017</text><text class="t" x="307.42" y="1.75" textLength="77.54" lengthAdjust="spacingAndGlyphs">full live virtual &#x27;versions of your avatars&#x27;</text></g><g transform="translate(910.7 507.5) rotate(-56)"><text class="n" x="397.3" y="1.75" text-anchor="end">#018</text><text class="t" x="314.85" y="1.75" textLength="70.1" lengthAdjust="spacingAndGlyphs">high altitude drones harvest energy</text></g><g transform="translate(910.7 507.5) rotate(-54)"><text class="n" x="397.3" y="1.75" text-anchor="end">#019</text><text class="t" x="314.61" y="1.75" textLength="70.34" lengthAdjust="spacingAndGlyphs">harvest energy from your own body</text></g><g transform="translate(910.7 507.5) rotate(-52)"><text class="n" x="397.3" y="1.75" text-anchor="end">#020</text><text class="t" x="330.34" y="1.75" textLength="54.62" lengthAdjust="spacingAndGlyphs">beam electricity from space</text></g><g transform="translate(910.7 507.5) rotate(-50)"><text class="n" x="397.3" y="1.75" text-anchor="end">#021</text><text class="t" x="336.56" y="1.75" textLength="48.4" lengthAdjust="spacingAndGlyphs">100% renewable energy</text></g><g transform="translate(910.7 507.5) rotate(-46)"><text class="n" x="397.3" y="1.75" text-anchor="end">#021</text><text class="t" x="328.82" y="1.75" textLength="56.14" lengthAdjust="spacingAndGlyphs">education done in the womb</text></g><g transform="translate(910.7 507.5) rotate(-44)"><text class="n" x="397.3" y="1.75" text-anchor="end">#022</text><text class="t" x="316.36" y="1.75" textLength="68.59" lengthAdjust="spacingAndGlyphs">companies pay for STEM students</text></g><g transform="translate(910.7 507.5) rotate(-42)"><text class="n" x="397.3" y="1.75" text-anchor="end">#023</text><text class="t" x="312.61" y="1.75" textLength="72.35" lengthAdjust="spacingAndGlyphs">coding integrated to every education</text></g><g transform="translate(910.7 507.5) rotate(-40)"><text class="n" x="397.3" y="1.75" text-anchor="end">#024</text><text class="t" x="324.84" y="1.75" textLength="60.12" lengthAdjust="spacingAndGlyphs">upload new skills to your brain</text></g><g transform="translate(910.7 507.5) rotate(-38)"><text class="n" x="397.3" y="1.75" text-anchor="end">#025</text><text class="t" x="293.67" y="1.75" textLength="91.29" lengthAdjust="spacingAndGlyphs">university degrees &amp; certificates are worthless</text></g><g transform="translate(910.7 507.5) rotate(-34)"><text class="n" x="397.3" y="1.75" text-anchor="end">#026</text><text class="t" x="308.88" y="1.75" textLength="76.08" lengthAdjust="spacingAndGlyphs">personalised cybersecurity companies</text></g><g transform="translate(910.7 507.5) rotate(-32)"><text class="n" x="397.3" y="1.75" text-anchor="end">#027</text><text class="t" x="310.38" y="1.75" textLength="74.58" lengthAdjust="spacingAndGlyphs">mixing of old pictures for new insights</text></g><g transform="translate(910.7 507.5) rotate(-30)"><text class="n" x="397.3" y="1.75" text-anchor="end">#028</text><text class="t" x="293.95" y="1.75" textLength="91.01" lengthAdjust="spacingAndGlyphs">qualitative data more than quantitative</text></g><g transform="translate(910.7 507.5) rotate(-28)"><text class="n" x="397.3" y="1.75" text-anchor="end">#029</text><text class="t" x="330.08" y="1.75" textLength="54.88" lengthAdjust="spacingAndGlyphs">self destruct online footprint</text></g><g transform="translate(910.7 507.5) rotate(-24)"><text class="n" x="397.3" y="1.75" text-anchor="end">#030</text><text class="t" x="314.12" y="1.75" textLength="70.83" lengthAdjust="spacingAndGlyphs">music fully composed by algorithms</text></g><g transform="translate(910.7 507.5) rotate(-22)"><text class="n" x="397.3" y="1.75" text-anchor="end">#031</text><text class="t" x="316.36" y="1.75" textLength="68.59" lengthAdjust="spacingAndGlyphs">books are auto-written by software</text></g><g transform="translate(910.7 507.5) rotate(-20)"><text class="n" x="397.3" y="1.75" text-anchor="end">#032</text><text class="t" x="327.59" y="1.75" textLength="57.37" lengthAdjust="spacingAndGlyphs">handwriting is just an artform</text></g><g transform="translate(910.7 507.5) rotate(-16)"><text class="n" x="397.3" y="1.75" text-anchor="end">#033</text><text class="t" x="322.59" y="1.75" textLength="62.37" lengthAdjust="spacingAndGlyphs">75% of population lives in cities</text></g><g transform="translate(910.7 507.5) rotate(-14)"><text class="n" x="397.3" y="1.75" text-anchor="end">#034</text><text class="t" x="326.08" y="1.75" textLength="58.88" lengthAdjust="spacingAndGlyphs">crowdsourced urban planning</text></g><g transform="translate(910.7 507.5) rotate(-12)"><text class="n" x="397.3" y="1.75" text-anchor="end">#035</text><text class="t" x="342.8" y="1.75" textLength="42.16" lengthAdjust="spacingAndGlyphs">cities on ocean floors</text></g><g transform="translate(910.7 507.5) rotate(-10)"><text class="n" x="397.3" y="1.75" text-anchor="end">#036</text><text class="t" x="326.33" y="1.75" textLength="58.62" lengthAdjust="spacingAndGlyphs">subterranean apartment units</text></g><g transform="translate(910.7 507.5) rotate(-6)"><text class="n" x="397.3" y="1.75" text-anchor="end">#037</text><text class="t" x="272.96" y="1.75" textLength="112" lengthAdjust="spacingAndGlyphs">digital preservation services to live on in the virtual world</text></g><g transform="translate(910.7 507.5) rotate(-4)"><text class="n" x="397.3" y="1.75" text-anchor="end">#038</text><text class="t" x="310.62" y="1.75" textLength="74.33" lengthAdjust="spacingAndGlyphs">Antarctica &amp; Arctic: open for business</text></g><g transform="translate(910.7 507.5) rotate(-2)"><text class="n" x="397.3" y="1.75" text-anchor="end">#039</text><text class="t" x="298.14" y="1.75" textLength="86.81" lengthAdjust="spacingAndGlyphs">one day startups gets acquired for 1$ billion</text></g><g transform="translate(910.7 507.5) rotate(2)"><text class="n" x="331.9" y="1.75" text-anchor="end">#040</text></g><g transform="translate(910.7 507.5) rotate(4)"><text class="n" x="397.3" y="1.75" text-anchor="end">#041</text><text class="t" x="308.87" y="1.75" textLength="76.08" lengthAdjust="spacingAndGlyphs">employees are company shareholders</text></g><g transform="translate(910.7 507.5) rotate(6)"><text class="n" x="397.3" y="1.75" text-anchor="end">#042</text><text class="t" x="309.38" y="1.75" textLength="75.58" lengthAdjust="spacingAndGlyphs">productivity data rewards replace CVs</text></g><g transform="translate(910.7 507.5) rotate(10)"><text class="n" x="397.3" y="1.75" text-anchor="end">#043</text><text class="t" x="339.32" y="1.75" textLength="45.64" lengthAdjust="spacingAndGlyphs">extinct animals tourism</text></g><g transform="translate(910.7 507.5) rotate(12)"><text class="n" x="397.3" y="1.75" text-anchor="end">#044</text><text class="t" x="314.62" y="1.75" textLength="70.34" lengthAdjust="spacingAndGlyphs">countries create tourism-free zones</text></g><g transform="translate(910.7 507.5) rotate(14)"><text class="n" x="397.3" y="1.75" text-anchor="end">#045</text><text class="t" x="333.56" y="1.75" textLength="51.4" lengthAdjust="spacingAndGlyphs">holidays to another planet</text></g><g transform="translate(910.7 507.5) rotate(16)"><text class="n" x="397.3" y="1.75" text-anchor="end">#046</text><text class="t" x="331.32" y="1.75" textLength="53.63" lengthAdjust="spacingAndGlyphs">holidays to tech-free zones</text></g><g transform="translate(910.7 507.5) rotate(20)"><text class="n" x="397.3" y="1.75" text-anchor="end">#047</text><text class="t" x="319.35" y="1.75" textLength="65.61" lengthAdjust="spacingAndGlyphs">See-through display archive data</text></g><g transform="translate(910.7 507.5) rotate(22)"><text class="n" x="397.3" y="1.75" text-anchor="end">#048</text><text class="t" x="342.79" y="1.75" textLength="42.16" lengthAdjust="spacingAndGlyphs">global lake flipboards</text></g><g transform="translate(910.7 507.5) rotate(24)"><text class="n" x="397.3" y="1.75" text-anchor="end">#049</text><text class="t" x="311.61" y="1.75" textLength="73.34" lengthAdjust="spacingAndGlyphs">teeth scanning signs on social media</text></g><g transform="translate(910.7 507.5) rotate(26)"><text class="n" x="397.3" y="1.75" text-anchor="end">#050</text><text class="t" x="361.26" y="1.75" textLength="23.7" lengthAdjust="spacingAndGlyphs">friend rating</text></g><g transform="translate(910.7 507.5) rotate(28)"><text class="n" x="397.3" y="1.75" text-anchor="end">#051</text><text class="t" x="313.61" y="1.75" textLength="71.35" lengthAdjust="spacingAndGlyphs">everyone with unique ID on the web</text></g><g transform="translate(910.7 507.5) rotate(30)"><text class="n" x="397.3" y="1.75" text-anchor="end">#052</text><text class="t" x="320.59" y="1.75" textLength="64.36" lengthAdjust="spacingAndGlyphs">stigma on having a conversation</text></g><g transform="translate(910.7 507.5) rotate(32)"><text class="n" x="397.3" y="1.75" text-anchor="end">#053</text><text class="t" x="309.99" y="1.75" textLength="74.96" lengthAdjust="spacingAndGlyphs">Single &gt;100 phases over your lifetime</text></g><g transform="translate(910.7 507.5) rotate(34)"><text class="n" x="397.3" y="1.75" text-anchor="end">#054</text><text class="t" x="309.37" y="1.75" textLength="75.58" lengthAdjust="spacingAndGlyphs">change your identity over your lifetime</text></g><g transform="translate(910.7 507.5) rotate(36)"><text class="n" x="397.3" y="1.75" text-anchor="end">#055</text><text class="t" x="306.38" y="1.75" textLength="78.58" lengthAdjust="spacingAndGlyphs">children are parents over grandmothers</text></g><g transform="translate(910.7 507.5) rotate(38)"><text class="n" x="397.3" y="1.75" text-anchor="end">#056</text><text class="t" x="330.83" y="1.75" textLength="54.13" lengthAdjust="spacingAndGlyphs">one billion climate migrants</text></g><g transform="translate(910.7 507.5) rotate(40)"><text class="n" x="397.3" y="1.75" text-anchor="end">#057</text><text class="t" x="345.04" y="1.75" textLength="39.91" lengthAdjust="spacingAndGlyphs">fines for being noisy</text></g><g transform="translate(910.7 507.5) rotate(42)"><text class="n" x="397.3" y="1.75" text-anchor="end">#058</text><text class="t" x="293.41" y="1.75" textLength="91.55" lengthAdjust="spacingAndGlyphs">lifestyle choices no consequences in care bills</text></g><g transform="translate(910.7 507.5) rotate(44)"><text class="n" x="397.3" y="1.75" text-anchor="end">#059</text><text class="t" x="347.29" y="1.75" textLength="37.66" lengthAdjust="spacingAndGlyphs">Facebook is empty</text></g><g transform="translate(910.7 507.5) rotate(46)"><text class="n" x="397.3" y="1.75" text-anchor="end">#060</text><text class="t" x="296.89" y="1.75" textLength="88.06" lengthAdjust="spacingAndGlyphs">personalisation leads to deeper social divide</text></g><g transform="translate(910.7 507.5) rotate(48)"><text class="n" x="397.3" y="1.75" text-anchor="end">#061</text><text class="t" x="307.36" y="1.75" textLength="77.59" lengthAdjust="spacingAndGlyphs">adaptation lag decreases exponentially</text></g><g transform="translate(910.7 507.5) rotate(52)"><text class="n" x="397.3" y="1.75" text-anchor="end">#062</text><text class="t" x="320.84" y="1.75" textLength="64.12" lengthAdjust="spacingAndGlyphs">ban on baby production facilities</text></g><g transform="translate(910.7 507.5) rotate(54)"><text class="n" x="397.3" y="1.75" text-anchor="end">#063</text><text class="t" x="338.8" y="1.75" textLength="46.15" lengthAdjust="spacingAndGlyphs">gender-neutral children</text></g><g transform="translate(910.7 507.5) rotate(56)"><text class="n" x="397.3" y="1.75" text-anchor="end">#064</text><text class="t" x="350.78" y="1.75" textLength="34.18" lengthAdjust="spacingAndGlyphs">lab-grown babies</text></g><g transform="translate(910.7 507.5) rotate(58)"><text class="n" x="397.3" y="1.75" text-anchor="end">#065</text><text class="t" x="322.09" y="1.75" textLength="62.86" lengthAdjust="spacingAndGlyphs">in-body toys for unborn children</text></g><g transform="translate(910.7 507.5) rotate(60)"><text class="n" x="397.3" y="1.75" text-anchor="end">#066</text><text class="t" x="313.36" y="1.75" textLength="71.6" lengthAdjust="spacingAndGlyphs">lending of children for a short period</text></g><g transform="translate(910.7 507.5) rotate(62)"><text class="n" x="397.3" y="1.75" text-anchor="end">#067</text><text class="t" x="327.33" y="1.75" textLength="57.63" lengthAdjust="spacingAndGlyphs">buy the right to have children</text></g><g transform="translate(910.7 507.5) rotate(66)"><text class="n" x="397.3" y="1.75" text-anchor="end">#068</text><text class="t" x="321.84" y="1.75" textLength="63.11" lengthAdjust="spacingAndGlyphs">high-speed trans-Atlantic tunnel</text></g><g transform="translate(910.7 507.5) rotate(68)"><text class="n" x="397.3" y="1.75" text-anchor="end">#069</text><text class="t" x="363.01" y="1.75" textLength="21.95" lengthAdjust="spacingAndGlyphs">vehicles fly</text></g><g transform="translate(910.7 507.5) rotate(70)"><text class="n" x="397.3" y="1.75" text-anchor="end">#070</text><text class="t" x="309.37" y="1.75" textLength="75.58" lengthAdjust="spacingAndGlyphs">hyperloop becomes really everywhere</text></g><g transform="translate(910.7 507.5) rotate(72)"><text class="n" x="397.3" y="1.75" text-anchor="end">#071</text><text class="t" x="337.06" y="1.75" textLength="47.89" lengthAdjust="spacingAndGlyphs">3 hour global travel time</text></g><g transform="translate(910.7 507.5) rotate(74)"><text class="n" x="397.3" y="1.75" text-anchor="end">#072</text><text class="t" x="342.3" y="1.75" textLength="42.65" lengthAdjust="spacingAndGlyphs">flying cars are a thing</text></g><g transform="translate(910.7 507.5) rotate(76)"><text class="n" x="397.3" y="1.75" text-anchor="end">#073</text><text class="t" x="311.87" y="1.75" textLength="73.08" lengthAdjust="spacingAndGlyphs">low orbital cargo transport &amp; logistics</text></g><g transform="translate(910.7 507.5) rotate(78)"><text class="n" x="397.3" y="1.75" text-anchor="end">#074</text><text class="t" x="311.37" y="1.75" textLength="73.58" lengthAdjust="spacingAndGlyphs">1st private mobile mobility navigators</text></g><g transform="translate(910.7 507.5) rotate(80)"><text class="n" x="397.3" y="1.75" text-anchor="end">#075</text><text class="t" x="312.87" y="1.75" textLength="72.09" lengthAdjust="spacingAndGlyphs">fully automated cargo trucks at night</text></g><g transform="translate(910.7 507.5) rotate(82)"><text class="n" x="397.3" y="1.75" text-anchor="end">#076</text><text class="t" x="303.89" y="1.75" textLength="81.07" lengthAdjust="spacingAndGlyphs">no more human-driven cars on highways</text></g><g transform="translate(910.7 507.5) rotate(266)"><text class="n" x="-396.4" y="1.75">#077</text><text class="t" x="-384.06" y="1.75" textLength="35.92" lengthAdjust="spacingAndGlyphs">pay-to-live ad free</text></g><g transform="translate(910.7 507.5) rotate(268)"><text class="n" x="-396.4" y="1.75">#078</text><text class="t" x="-384.06" y="1.75" textLength="81.07" lengthAdjust="spacingAndGlyphs">ads for winners replace reality of ad walk</text></g><g transform="translate(910.7 507.5) rotate(270)"><text class="n" x="-396.4" y="1.75">#079</text><text class="t" x="-384.06" y="1.75" textLength="62.37" lengthAdjust="spacingAndGlyphs">branding support for individuals</text></g><g transform="translate(910.7 507.5) rotate(272)"><text class="n" x="-396.4" y="1.75">#080</text><text class="t" x="-384.06" y="1.75" textLength="84.82" lengthAdjust="spacingAndGlyphs">getting paid not to use competitor products</text></g><g transform="translate(910.7 507.5) rotate(274)"><text class="n" x="-396.4" y="1.75">#081</text><text class="t" x="-384.06" y="1.75" textLength="72.58" lengthAdjust="spacingAndGlyphs">car brands create road infrastructure</text></g><g transform="translate(910.7 507.5) rotate(278)"><text class="n" x="-396.4" y="1.75">#082</text><text class="t" x="-384.06" y="1.75" textLength="43.41" lengthAdjust="spacingAndGlyphs">genome-based dating</text></g><g transform="translate(910.7 507.5) rotate(280)"><text class="n" x="-396.4" y="1.75">#083</text><text class="t" x="-384.06" y="1.75" textLength="84.57" lengthAdjust="spacingAndGlyphs">no taboo on sharing all sexual preferences</text></g><g transform="translate(910.7 507.5) rotate(282)"><text class="n" x="-396.4" y="1.75">#084</text><text class="t" x="-384.06" y="1.75" textLength="63.11" lengthAdjust="spacingAndGlyphs">marriage has an expiration date</text></g><g transform="translate(910.7 507.5) rotate(284)"><text class="n" x="-396.4" y="1.75">#085</text><text class="t" x="-384.06" y="1.75" textLength="102.78" lengthAdjust="spacingAndGlyphs">suggestive tech-enabled matches on chem analysis</text></g><g transform="translate(910.7 507.5) rotate(286)"><text class="n" x="-396.4" y="1.75">#086</text><text class="t" x="-384.06" y="1.75" textLength="59.86" lengthAdjust="spacingAndGlyphs">responsible to friends &amp; family</text></g><g transform="translate(910.7 507.5) rotate(288)"><text class="n" x="-396.4" y="1.75">#087</text><text class="t" x="-384.06" y="1.75" textLength="45.65" lengthAdjust="spacingAndGlyphs">able to marry an object</text></g><g transform="translate(910.7 507.5) rotate(290)"><text class="n" x="-396.4" y="1.75">#088</text><text class="t" x="-384.06" y="1.75" textLength="88.31" lengthAdjust="spacingAndGlyphs">dating involves exchange of medical records</text></g><g transform="translate(910.7 507.5) rotate(294)"><text class="n" x="-396.4" y="1.75">#089</text><text class="t" x="-384.06" y="1.75" textLength="65.34" lengthAdjust="spacingAndGlyphs">pre-emptive arrests are the norm</text></g><g transform="translate(910.7 507.5) rotate(296)"><text class="n" x="-396.4" y="1.75">#090</text><text class="t" x="-384.06" y="1.75" textLength="56.24" lengthAdjust="spacingAndGlyphs">don&#x27;t have clear consistency</text></g><g transform="translate(910.7 507.5) rotate(298)"><text class="n" x="-396.4" y="1.75">#091</text><text class="t" x="-384.06" y="1.75" textLength="65.35" lengthAdjust="spacingAndGlyphs">algorithmic absoluteness a crime</text></g><g transform="translate(910.7 507.5) rotate(300)"><text class="n" x="-396.4" y="1.75">#092</text><text class="t" x="-384.06" y="1.75" textLength="70.1" lengthAdjust="spacingAndGlyphs">Ocean to deserve her rights to vote</text></g><g transform="translate(910.7 507.5) rotate(302)"><text class="n" x="-396.4" y="1.75">#093</text><text class="t" x="-384.06" y="1.75" textLength="71.59" lengthAdjust="spacingAndGlyphs">global register of all personal wealth</text></g><g transform="translate(910.7 507.5) rotate(304)"><text class="n" x="-396.4" y="1.75">#094</text><text class="t" x="-384.06" y="1.75" textLength="81.58" lengthAdjust="spacingAndGlyphs">lobbying company for pollution regulation</text></g><g transform="translate(910.7 507.5) rotate(306)"><text class="n" x="-396.4" y="1.75">#095</text><text class="t" x="-384.06" y="1.75" textLength="52.13" lengthAdjust="spacingAndGlyphs">tax on robots &amp; algorithms</text></g><g transform="translate(910.7 507.5) rotate(308)"><text class="n" x="-396.4" y="1.75">#096</text><text class="t" x="-384.06" y="1.75" textLength="65.57" lengthAdjust="spacingAndGlyphs">&#x27;right to disconnect&#x27; becomes law</text></g><g transform="translate(910.7 507.5) rotate(310)"><text class="n" x="-396.4" y="1.75">#097</text><text class="t" x="-384.06" y="1.75" textLength="81.83" lengthAdjust="spacingAndGlyphs">tax-free approved sand over dependency</text></g><g transform="translate(910.7 507.5) rotate(312)"><text class="n" x="-396.4" y="1.75">#098</text><text class="t" x="-384.06" y="1.75" textLength="74.84" lengthAdjust="spacingAndGlyphs">government incentives for early death</text></g><g transform="translate(910.7 507.5) rotate(314)"><text class="n" x="-396.4" y="1.75">#099</text><text class="t" x="-384.06" y="1.75" textLength="42.9" lengthAdjust="spacingAndGlyphs">robot police &amp; military</text></g><g transform="translate(910.7 507.5) rotate(316)"><text class="n" x="-396.4" y="1.75">#100</text><text class="t" x="-384.06" y="1.75" textLength="61.1" lengthAdjust="spacingAndGlyphs">first country ruled by AI system</text></g><g transform="translate(910.7 507.5) rotate(318)"><text class="n" x="-396.4" y="1.75">#101</text><text class="t" x="-384.06" y="1.75" textLength="78.29" lengthAdjust="spacingAndGlyphs">work at private rather &#x27;sleep&#x27; for 5 years</text></g><g transform="translate(910.7 507.5) rotate(322)"><text class="n" x="-396.4" y="1.75">#102</text><text class="t" x="-384.06" y="1.75" textLength="65.61" lengthAdjust="spacingAndGlyphs">all insurances based on behavior</text></g><g transform="translate(910.7 507.5) rotate(324)"><text class="n" x="-396.4" y="1.75">#103</text><text class="t" x="-384.06" y="1.75" textLength="86.06" lengthAdjust="spacingAndGlyphs">crowdsourced guarantees with peer shared</text></g><g transform="translate(910.7 507.5) rotate(326)"><text class="n" x="-396.4" y="1.75">#104</text><text class="t" x="-384.06" y="1.75" textLength="60.87" lengthAdjust="spacingAndGlyphs">vaccine government insurance</text></g><g transform="translate(910.7 507.5) rotate(330)"><text class="n" x="-396.4" y="1.75">#105</text><text class="t" x="-384.06" y="1.75" textLength="87.56" lengthAdjust="spacingAndGlyphs">70y old: children smarter than average adult</text></g><g transform="translate(910.7 507.5) rotate(332)"><text class="n" x="-396.4" y="1.75">#106</text><text class="t" x="-384.06" y="1.75" textLength="81.07" lengthAdjust="spacingAndGlyphs">performance stress &amp; 80% burn out level</text></g><g transform="translate(910.7 507.5) rotate(334)"><text class="n" x="-396.4" y="1.75">#107</text><text class="t" x="-384.06" y="1.75" textLength="46.15" lengthAdjust="spacingAndGlyphs">humans can live to 170</text></g><g transform="translate(910.7 507.5) rotate(336)"><text class="n" x="-396.4" y="1.75">#108</text><text class="t" x="-384.06" y="1.75" textLength="63.61" lengthAdjust="spacingAndGlyphs">legal way for robots and avatars</text></g><g transform="translate(910.7 507.5) rotate(338)"><text class="n" x="-396.4" y="1.75">#109</text><text class="t" x="-384.06" y="1.75" textLength="64.87" lengthAdjust="spacingAndGlyphs">enhanced eyes with lie detection</text></g><g transform="translate(910.7 507.5) rotate(340)"><text class="n" x="-396.4" y="1.75">#110</text><text class="t" x="-384.34" y="1.75" textLength="47.4" lengthAdjust="spacingAndGlyphs">choose your own genes</text></g><g transform="translate(910.7 507.5) rotate(342)"><text class="n" x="-396.4" y="1.75">#111</text><text class="t" x="-384.62" y="1.75" textLength="58.12" lengthAdjust="spacingAndGlyphs">brain-to-brain communication</text></g><g transform="translate(910.7 507.5) rotate(344)"><text class="n" x="-396.4" y="1.75">#112</text><text class="t" x="-384.34" y="1.75" textLength="62.36" lengthAdjust="spacingAndGlyphs">consult or travel a virtual avatar</text></g><g transform="translate(910.7 507.5) rotate(346)"><text class="n" x="-396.4" y="1.75">#113</text><text class="t" x="-384.34" y="1.75" textLength="79.07" lengthAdjust="spacingAndGlyphs">automatic emotion tracking over lifetime</text></g><g transform="translate(910.7 507.5) rotate(348)"><text class="n" x="-396.4" y="1.75">#114</text><text class="t" x="-384.34" y="1.75" textLength="76.09" lengthAdjust="spacingAndGlyphs">able to learn new language in 1 month</text></g><g transform="translate(910.7 507.5) rotate(350)"><text class="n" x="-396.4" y="1.75">#115</text><text class="t" x="-384.34" y="1.75" textLength="93.55" lengthAdjust="spacingAndGlyphs">neuralink plug etc. knotty straight into the cloud</text></g><g transform="translate(910.7 507.5) rotate(352)"><text class="n" x="-396.4" y="1.75">#116</text><text class="t" x="-384.34" y="1.75" textLength="64.82" lengthAdjust="spacingAndGlyphs">adulthood based on &quot;IQ&quot; not age</text></g><g transform="translate(910.7 507.5) rotate(354)"><text class="n" x="-396.4" y="1.75">#117</text><text class="t" x="-384.34" y="1.75" textLength="73.58" lengthAdjust="spacingAndGlyphs">multi-body scanners or replacements</text></g><g transform="translate(910.7 507.5) rotate(356)"><text class="n" x="-396.4" y="1.75">#118</text><text class="t" x="-384.34" y="1.75" textLength="42.91" lengthAdjust="spacingAndGlyphs">api for your own body</text></g><g transform="translate(910.7 507.5) rotate(358)"><text class="n" x="-396.4" y="1.75">#119</text><text class="t" x="-384.34" y="1.75" textLength="60.62" lengthAdjust="spacingAndGlyphs">personal happiness barometer</text></g><g transform="translate(910.7 507.5) rotate(362)"><text class="n" x="-396.4" y="1.75">#120</text><text class="t" x="-384.06" y="1.75" textLength="54.13" lengthAdjust="spacingAndGlyphs">blockchain medical records</text></g><g transform="translate(910.7 507.5) rotate(364)"><text class="n" x="-396.4" y="1.75">#121</text><text class="t" x="-384.06" y="1.75" textLength="68.84" lengthAdjust="spacingAndGlyphs">medical records are stored in body</text></g><g transform="translate(910.7 507.5) rotate(366)"><text class="n" x="-396.4" y="1.75">#122</text><text class="t" x="-384.06" y="1.75" textLength="61.61" lengthAdjust="spacingAndGlyphs">min medical asset in the brains</text></g><g transform="translate(910.7 507.5) rotate(368)"><text class="n" x="-396.4" y="1.75">#123</text><text class="t" x="-384.06" y="1.75" textLength="57.37" lengthAdjust="spacingAndGlyphs">swallow nanobots: cell repair</text></g><g transform="translate(910.7 507.5) rotate(370)"><text class="n" x="-396.4" y="1.75">#124</text><text class="t" x="-384.06" y="1.75" textLength="62.86" lengthAdjust="spacingAndGlyphs">tracking chip in newborn babies</text></g><g transform="translate(910.7 507.5) rotate(372)"><text class="n" x="-396.4" y="1.75">#125</text><text class="t" x="-384.06" y="1.75" textLength="79.83" lengthAdjust="spacingAndGlyphs">full body scans to detect future diseases</text></g><g transform="translate(910.7 507.5) rotate(374)"><text class="n" x="-396.4" y="1.75">#126</text><text class="t" x="-384.06" y="1.75" textLength="65.61" lengthAdjust="spacingAndGlyphs">able to pause aging for 2-8 years</text></g><g transform="translate(910.7 507.5) rotate(376)"><text class="n" x="-396.4" y="1.75">#127</text><text class="t" x="-384.06" y="1.75" textLength="41.41" lengthAdjust="spacingAndGlyphs">meds in veggies pills</text></g><g transform="translate(910.7 507.5) rotate(378)"><text class="n" x="-396.4" y="1.75">#128</text><text class="t" x="-384.06" y="1.75" textLength="42.16" lengthAdjust="spacingAndGlyphs">all pharmacies online</text></g><g transform="translate(910.7 507.5) rotate(380)"><text class="n" x="-396.4" y="1.75">#129</text><text class="t" x="-384.06" y="1.75" textLength="50.9" lengthAdjust="spacingAndGlyphs">synthetic enhanced blood</text></g><g transform="translate(910.7 507.5) rotate(382)"><text class="n" x="-396.4" y="1.75">#130</text><text class="t" x="-384.06" y="1.75" textLength="54.12" lengthAdjust="spacingAndGlyphs">medical lifestyle treatments</text></g><g transform="translate(910.7 507.5) rotate(384)"><text class="n" x="-396.4" y="1.75">#131</text><text class="t" x="-384.06" y="1.75" textLength="38.42" lengthAdjust="spacingAndGlyphs">shop for body parts</text></g><g transform="translate(910.7 507.5) rotate(386)"><text class="n" x="-396.4" y="1.75">#132</text><text class="t" x="-384.06" y="1.75" textLength="75.84" lengthAdjust="spacingAndGlyphs">inhalable virtual vits to exchange body</text></g><g transform="translate(910.7 507.5) rotate(388)"><text class="n" x="-396.4" y="1.75">#133</text><text class="t" x="-384.06" y="1.75" textLength="69.11" lengthAdjust="spacingAndGlyphs">personalised unique drugs are one</text></g><g transform="translate(910.7 507.5) rotate(390)"><text class="n" x="-396.4" y="1.75">#134</text><text class="t" x="-384.06" y="1.75" textLength="56.05" lengthAdjust="spacingAndGlyphs">anti conceptive on/off switch</text></g><g transform="translate(910.7 507.5) rotate(392)"><text class="n" x="-396.4" y="1.75">#135</text><text class="t" x="-384.06" y="1.75" textLength="42.41" lengthAdjust="spacingAndGlyphs">men can be pregnant</text></g><g transform="translate(910.7 507.5) rotate(396)"><text class="n" x="-396.4" y="1.75">#136</text><text class="t" x="-384.06" y="1.75" textLength="80.58" lengthAdjust="spacingAndGlyphs">one meal per week due to synthetic food</text></g><g transform="translate(910.7 507.5) rotate(398)"><text class="n" x="-396.4" y="1.75">#137</text><text class="t" x="-384.06" y="1.75" textLength="58.62" lengthAdjust="spacingAndGlyphs">indoor fruit growing appliance</text></g><g transform="translate(910.7 507.5) rotate(400)"><text class="n" x="-396.4" y="1.75">#138</text><text class="t" x="-384.06" y="1.75" textLength="98.28" lengthAdjust="spacingAndGlyphs">lab-labs meat &amp; insect food becomes mainstream</text></g><g transform="translate(910.7 507.5) rotate(402)"><text class="n" x="-396.4" y="1.75">#139</text><text class="t" x="-384.06" y="1.75" textLength="58.12" lengthAdjust="spacingAndGlyphs">rights to 30 year tomato taste</text></g><g transform="translate(910.7 507.5) rotate(404)"><text class="n" x="-396.4" y="1.75">#140</text><text class="t" x="-384.06" y="1.75" textLength="67.85" lengthAdjust="spacingAndGlyphs">functional fruit categories in shops</text></g><g transform="translate(910.7 507.5) rotate(406)"><text class="n" x="-396.4" y="1.75">#141</text><text class="t" x="-384.06" y="1.75" textLength="60.62" lengthAdjust="spacingAndGlyphs">antigen-free indoor vegetables</text></g><g transform="translate(910.7 507.5) rotate(408)"><text class="n" x="-396.4" y="1.75">#142</text><text class="t" x="-384.06" y="1.75" textLength="35.66" lengthAdjust="spacingAndGlyphs">cow-free cow milk</text></g><g transform="translate(910.7 507.5) rotate(410)"><text class="n" x="-396.4" y="1.75">#143</text><text class="t" x="-384.06" y="1.75" textLength="44.66" lengthAdjust="spacingAndGlyphs">digital seeds database</text></g><g transform="translate(910.7 507.5) rotate(412)"><text class="n" x="-396.4" y="1.75">#144</text><text class="t" x="-384.06" y="1.75" textLength="101.39" lengthAdjust="spacingAndGlyphs">food producers disclose what you&#x27;re actually eating</text></g><g transform="translate(910.7 507.5) rotate(414)"><text class="n" x="-396.4" y="1.75">#145</text><text class="t" x="-384.06" y="1.75" textLength="43.91" lengthAdjust="spacingAndGlyphs">sweets will be banned</text></g><g transform="translate(910.7 507.5) rotate(416)"><text class="n" x="-396.4" y="1.75">#146</text><text class="t" x="-384.06" y="1.75" textLength="76.59" lengthAdjust="spacingAndGlyphs">nutritional value of vegetables doubled</text></g><g transform="translate(910.7 507.5) rotate(418)"><text class="n" x="-396.4" y="1.75">#147</text><text class="t" x="-384.06" y="1.75" textLength="81.56" lengthAdjust="spacingAndGlyphs">become scarce for resources to eat meat</text></g><g transform="translate(910.7 507.5) rotate(420)"><text class="n" x="-396.4" y="1.75">#148</text><text class="t" x="-384.06" y="1.75" textLength="81.07" lengthAdjust="spacingAndGlyphs">cannabis-based products go mainstream</text></g><g transform="translate(910.7 507.5) rotate(424)"><text class="n" x="-396.4" y="1.75">#149</text><text class="t" x="-384.06" y="1.75" textLength="70.59" lengthAdjust="spacingAndGlyphs">stock &amp; shares in the lives of others</text></g><g transform="translate(910.7 507.5) rotate(426)"><text class="n" x="-396.4" y="1.75">#150</text><text class="t" x="-384.06" y="1.75" textLength="87.56" lengthAdjust="spacingAndGlyphs">international bitcoin only free value currency</text></g><g transform="translate(910.7 507.5) rotate(428)"><text class="n" x="-396.4" y="1.75">#151</text><text class="t" x="-384.06" y="1.75" textLength="46.15" lengthAdjust="spacingAndGlyphs">no more money printed</text></g><g transform="translate(910.7 507.5) rotate(430)"><text class="n" x="-396.4" y="1.75">#152</text><text class="t" x="-384.06" y="1.75" textLength="86.79" lengthAdjust="spacingAndGlyphs">AI-run time-financial markets &amp; transactions</text></g><g transform="translate(910.7 507.5) rotate(432)"><text class="n" x="-396.4" y="1.75">#153</text><text class="t" x="-384.06" y="1.75" textLength="60.61" lengthAdjust="spacingAndGlyphs">payments via smart messages</text></g><g transform="translate(910.7 507.5) rotate(436)"><text class="n" x="-396.4" y="1.75">#154</text><text class="t" x="-384.06" y="1.75" textLength="51.14" lengthAdjust="spacingAndGlyphs">able to change cloth color</text></g><g transform="translate(910.7 507.5) rotate(438)"><text class="n" x="-396.4" y="1.75">#155</text><text class="t" x="-384.06" y="1.75" textLength="78.07" lengthAdjust="spacingAndGlyphs">real time virtual video make-up tutorials</text></g><g transform="translate(910.7 507.5) rotate(440)"><text class="n" x="-396.4" y="1.75">#156</text><text class="t" x="-384.06" y="1.75" textLength="51.14" lengthAdjust="spacingAndGlyphs">hi-e-couture living fashion</text></g><g transform="translate(910.7 507.5) rotate(442)"><text class="n" x="-396.4" y="1.75">#157</text><text class="t" x="-384.06" y="1.75" textLength="54.13" lengthAdjust="spacingAndGlyphs">self cleaning smart clothing</text></g></g>
<g class="sn"><text transform="translate(913.84 98.51) rotate(0.44) scale(0.945 1)" text-anchor="middle">E</text><text transform="translate(919.09 98.59) rotate(1.18) scale(0.945 1)" text-anchor="middle">N</text><text transform="translate(924.34 98.73) rotate(1.91) scale(0.945 1)" text-anchor="middle">V</text><text transform="translate(927.91 98.86) rotate(2.41) scale(0.945 1)" text-anchor="middle">I</text><text transform="translate(931.69 99.04) rotate(2.94) scale(0.945 1)" text-anchor="middle">R</text><text transform="translate(937.35 99.37) rotate(3.74) scale(0.945 1)" text-anchor="middle">O</text><text transform="translate(943 99.78) rotate(4.53) scale(0.945 1)" text-anchor="middle">N</text><text transform="translate(948.86 100.28) rotate(5.35) scale(0.945 1)" text-anchor="middle">M</text><text transform="translate(954.5 100.85) rotate(6.15) scale(0.945 1)" text-anchor="middle">E</text><text transform="translate(959.72 101.45) rotate(6.88) scale(0.945 1)" text-anchor="middle">N</text><text transform="translate(964.72 102.08) rotate(7.59) scale(0.945 1)" text-anchor="middle">T</text></g><g class="sn"><text transform="translate(1042.66 120.37) rotate(18.82) scale(0.945 1)" text-anchor="middle">E</text><text transform="translate(1047.62 122.1) rotate(19.56) scale(0.945 1)" text-anchor="middle">N</text><text transform="translate(1052.36 123.82) rotate(20.26) scale(0.945 1)" text-anchor="middle">T</text><text transform="translate(1056.88 125.52) rotate(20.94) scale(0.945 1)" text-anchor="middle">E</text><text transform="translate(1061.77 127.42) rotate(21.68) scale(0.945 1)" text-anchor="middle">R</text><text transform="translate(1066.44 129.31) rotate(22.38) scale(0.945 1)" text-anchor="middle">T</text><text transform="translate(1071.09 131.26) rotate(23.09) scale(0.945 1)" text-anchor="middle">A</text><text transform="translate(1074.56 132.76) rotate(23.62) scale(0.945 1)" text-anchor="middle">I</text><text transform="translate(1078.02 134.29) rotate(24.15) scale(0.945 1)" text-anchor="middle">N</text><text transform="translate(1083.36 136.73) rotate(24.97) scale(0.945 1)" text-anchor="middle">M</text><text transform="translate(1088.49 139.16) rotate(25.77) scale(0.945 1)" text-anchor="middle">E</text><text transform="translate(1093.2 141.47) rotate(26.5) scale(0.945 1)" text-anchor="middle">N</text><text transform="translate(1097.7 143.75) rotate(27.21) scale(0.945 1)" text-anchor="middle">T</text></g><g class="sn"><text transform="translate(1145.98 172.95) rotate(35.12) scale(0.945 1)" text-anchor="middle">E</text><text transform="translate(1150.25 175.99) rotate(35.85) scale(0.945 1)" text-anchor="middle">N</text><text transform="translate(1154.49 179.1) rotate(36.59) scale(0.945 1)" text-anchor="middle">E</text><text transform="translate(1158.68 182.25) rotate(37.32) scale(0.945 1)" text-anchor="middle">R</text><text transform="translate(1163.17 185.72) rotate(38.12) scale(0.945 1)" text-anchor="middle">G</text><text transform="translate(1167.44 189.12) rotate(38.88) scale(0.945 1)" text-anchor="middle">Y</text></g><g class="sn"><text transform="translate(1200.94 219.33) rotate(45.21) scale(0.945 1)" text-anchor="middle">E</text><text transform="translate(1204.62 223.08) rotate(45.94) scale(0.945 1)" text-anchor="middle">D</text><text transform="translate(1208.39 227.03) rotate(46.71) scale(0.945 1)" text-anchor="middle">U</text><text transform="translate(1212.11 231.03) rotate(47.47) scale(0.945 1)" text-anchor="middle">C</text><text transform="translate(1215.77 235.08) rotate(48.24) scale(0.945 1)" text-anchor="middle">A</text><text transform="translate(1219.1 238.86) rotate(48.94) scale(0.945 1)" text-anchor="middle">T</text><text transform="translate(1221.3 241.4) rotate(49.41) scale(0.945 1)" text-anchor="middle">I</text><text transform="translate(1223.88 244.44) rotate(49.97) scale(0.945 1)" text-anchor="middle">O</text><text transform="translate(1227.5 248.81) rotate(50.77) scale(0.945 1)" text-anchor="middle">N</text></g><g class="sn"><text transform="translate(1257.22 290.23) rotate(57.91) scale(0.945 1)" text-anchor="middle">D</text><text transform="translate(1260.09 294.87) rotate(58.68) scale(0.945 1)" text-anchor="middle">A</text><text transform="translate(1262.68 299.19) rotate(59.38) scale(0.945 1)" text-anchor="middle">T</text><text transform="translate(1265.22 303.55) rotate(60.09) scale(0.945 1)" text-anchor="middle">A</text></g><g class="sn"><text transform="translate(1283.91 340.18) rotate(65.85) scale(0.945 1)" text-anchor="middle">C</text><text transform="translate(1286.11 345.18) rotate(66.62) scale(0.945 1)" text-anchor="middle">U</text><text transform="translate(1288.08 349.82) rotate(67.32) scale(0.945 1)" text-anchor="middle">L</text><text transform="translate(1289.84 354.09) rotate(67.97) scale(0.945 1)" text-anchor="middle">T</text><text transform="translate(1291.7 358.77) rotate(68.68) scale(0.945 1)" text-anchor="middle">U</text><text transform="translate(1293.65 363.87) rotate(69.44) scale(0.945 1)" text-anchor="middle">R</text><text transform="translate(1295.46 368.8) rotate(70.18) scale(0.945 1)" text-anchor="middle">E</text></g><g class="sn"><text transform="translate(1306.98 406.31) rotate(75.68) scale(0.945 1)" text-anchor="middle">C</text><text transform="translate(1307.9 409.98) rotate(76.21) scale(0.945 1)" text-anchor="middle">I</text><text transform="translate(1308.69 413.24) rotate(76.68) scale(0.945 1)" text-anchor="middle">T</text><text transform="translate(1309.45 416.51) rotate(77.15) scale(0.945 1)" text-anchor="middle">I</text><text transform="translate(1310.23 420) rotate(77.65) scale(0.945 1)" text-anchor="middle">E</text><text transform="translate(1311.28 424.93) rotate(78.35) scale(0.945 1)" text-anchor="middle">S</text></g><g class="sn"><text transform="translate(1317.21 462.44) rotate(83.68) scale(0.945 1)" text-anchor="middle">B</text><text transform="translate(1317.78 467.87) rotate(84.44) scale(0.945 1)" text-anchor="middle">U</text><text transform="translate(1318.25 473.1) rotate(85.18) scale(0.945 1)" text-anchor="middle">S</text><text transform="translate(1318.54 476.66) rotate(85.68) scale(0.945 1)" text-anchor="middle">I</text><text transform="translate(1318.8 480.43) rotate(86.21) scale(0.945 1)" text-anchor="middle">N</text><text transform="translate(1319.12 485.68) rotate(86.94) scale(0.945 1)" text-anchor="middle">E</text><text transform="translate(1319.36 490.71) rotate(87.65) scale(0.945 1)" text-anchor="middle">S</text><text transform="translate(1319.53 495.75) rotate(88.35) scale(0.945 1)" text-anchor="middle">S</text></g><g class="sn"><text transform="translate(1323.62 544.79) rotate(275.16) scale(0.945 1)" text-anchor="middle">W</text><text transform="translate(1324.15 538.31) rotate(274.26) scale(0.945 1)" text-anchor="middle">O</text><text transform="translate(1324.54 532.65) rotate(273.48) scale(0.945 1)" text-anchor="middle">R</text><text transform="translate(1324.83 527.2) rotate(272.72) scale(0.945 1)" text-anchor="middle">K</text></g><g class="sn"><text transform="translate(1311 615.43) rotate(285.09) scale(0.945 1)" text-anchor="middle">T</text><text transform="translate(1312.34 610.36) rotate(284.36) scale(0.945 1)" text-anchor="middle">O</text><text transform="translate(1313.71 604.85) rotate(283.58) scale(0.945 1)" text-anchor="middle">U</text><text transform="translate(1314.96 599.54) rotate(282.83) scale(0.945 1)" text-anchor="middle">R</text><text transform="translate(1315.78 595.85) rotate(282.3) scale(0.945 1)" text-anchor="middle">I</text><text transform="translate(1316.52 592.36) rotate(281.81) scale(0.945 1)" text-anchor="middle">S</text><text transform="translate(1317.65 586.8) rotate(281.03) scale(0.945 1)" text-anchor="middle">M</text></g><g class="sn"><text transform="translate(1246.35 750.87) rotate(305.94) scale(0.945 1)" text-anchor="middle">S</text><text transform="translate(1249.53 746.43) rotate(305.19) scale(0.945 1)" text-anchor="middle">O</text><text transform="translate(1252.77 741.77) rotate(304.41) scale(0.945 1)" text-anchor="middle">C</text><text transform="translate(1254.89 738.64) rotate(303.88) scale(0.945 1)" text-anchor="middle">I</text><text transform="translate(1256.87 735.67) rotate(303.39) scale(0.945 1)" text-anchor="middle">E</text><text transform="translate(1259.5 731.62) rotate(302.72) scale(0.945 1)" text-anchor="middle">T</text><text transform="translate(1262.09 727.54) rotate(302.06) scale(0.945 1)" text-anchor="middle">Y</text></g><g class="sn"><text transform="translate(1115.7 867.87) rotate(330.37) scale(0.945 1)" text-anchor="middle">P</text><text transform="translate(1120.25 865.25) rotate(329.64) scale(0.945 1)" text-anchor="middle">A</text><text transform="translate(1124.94 862.46) rotate(328.89) scale(0.945 1)" text-anchor="middle">R</text><text transform="translate(1129.42 859.71) rotate(328.16) scale(0.945 1)" text-anchor="middle">E</text><text transform="translate(1133.86 856.92) rotate(327.43) scale(0.945 1)" text-anchor="middle">N</text><text transform="translate(1138.09 854.18) rotate(326.74) scale(0.945 1)" text-anchor="middle">T</text><text transform="translate(1142.29 851.39) rotate(326.04) scale(0.945 1)" text-anchor="middle">H</text><text transform="translate(1146.97 848.19) rotate(325.26) scale(0.945 1)" text-anchor="middle">O</text><text transform="translate(1151.78 844.81) rotate(324.45) scale(0.945 1)" text-anchor="middle">O</text><text transform="translate(1156.37 841.48) rotate(323.66) scale(0.945 1)" text-anchor="middle">D</text></g><g class="sn"><text transform="translate(1010.58 909.89) rotate(346.06) scale(0.945 1)" text-anchor="middle">M</text><text transform="translate(1016.48 908.38) rotate(345.22) scale(0.945 1)" text-anchor="middle">O</text><text transform="translate(1021.95 906.9) rotate(344.44) scale(0.945 1)" text-anchor="middle">B</text><text transform="translate(1025.58 905.87) rotate(343.91) scale(0.945 1)" text-anchor="middle">I</text><text transform="translate(1028.81 904.92) rotate(343.45) scale(0.945 1)" text-anchor="middle">L</text><text transform="translate(1032.02 903.95) rotate(342.98) scale(0.945 1)" text-anchor="middle">I</text><text transform="translate(1035.23 902.96) rotate(342.52) scale(0.945 1)" text-anchor="middle">T</text><text transform="translate(1039.83 901.48) rotate(341.85) scale(0.945 1)" text-anchor="middle">Y</text></g><g class="sn"><text transform="translate(890.97 921.63) rotate(362.73) scale(0.945 1)" text-anchor="middle">M</text><text transform="translate(896.84 921.87) rotate(361.92) scale(0.945 1)" text-anchor="middle">A</text><text transform="translate(902.3 922.01) rotate(361.16) scale(0.945 1)" text-anchor="middle">R</text><text transform="translate(907.76 922.09) rotate(360.41) scale(0.945 1)" text-anchor="middle">K</text><text transform="translate(913.01 922.09) rotate(359.68) scale(0.945 1)" text-anchor="middle">E</text><text transform="translate(917.84 922.04) rotate(359.01) scale(0.945 1)" text-anchor="middle">T</text><text transform="translate(921.2 921.97) rotate(358.55) scale(0.945 1)" text-anchor="middle">I</text><text transform="translate(924.98 921.85) rotate(358.03) scale(0.945 1)" text-anchor="middle">N</text><text transform="translate(930.64 921.62) rotate(357.24) scale(0.945 1)" text-anchor="middle">G</text></g><g class="sn"><text transform="translate(802.67 907.78) rotate(375.1) scale(0.945 1)" text-anchor="middle">L</text><text transform="translate(807.75 909.11) rotate(374.38) scale(0.945 1)" text-anchor="middle">O</text><text transform="translate(813.05 910.44) rotate(373.62) scale(0.945 1)" text-anchor="middle">V</text><text transform="translate(817.96 911.59) rotate(372.93) scale(0.945 1)" text-anchor="middle">E</text></g><g class="sn"><text transform="translate(637.16 819.06) rotate(401.28) scale(0.945 1)" text-anchor="middle">L</text><text transform="translate(640.97 822.36) rotate(400.59) scale(0.945 1)" text-anchor="middle">A</text><text transform="translate(645.78 826.42) rotate(399.72) scale(0.945 1)" text-anchor="middle">W</text><text transform="translate(652.3 831.72) rotate(398.55) scale(0.945 1)" text-anchor="middle">&amp;</text><text transform="translate(658.42 836.51) rotate(397.48) scale(0.945 1)" text-anchor="middle">G</text><text transform="translate(663.11 840.05) rotate(396.67) scale(0.945 1)" text-anchor="middle">O</text><text transform="translate(667.51 843.29) rotate(395.91) scale(0.945 1)" text-anchor="middle">V</text><text transform="translate(671.61 846.22) rotate(395.22) scale(0.945 1)" text-anchor="middle">E</text><text transform="translate(675.92 849.22) rotate(394.49) scale(0.945 1)" text-anchor="middle">R</text><text transform="translate(680.44 852.28) rotate(393.74) scale(0.945 1)" text-anchor="middle">N</text><text transform="translate(685.36 855.51) rotate(392.92) scale(0.945 1)" text-anchor="middle">M</text><text transform="translate(690.14 858.56) rotate(392.14) scale(0.945 1)" text-anchor="middle">E</text><text transform="translate(694.6 861.33) rotate(391.41) scale(0.945 1)" text-anchor="middle">N</text><text transform="translate(698.92 863.93) rotate(390.72) scale(0.945 1)" text-anchor="middle">T</text></g><g class="sn"><text transform="translate(563.14 733.55) rotate(416.96) scale(0.945 1)" text-anchor="middle">I</text><text transform="translate(565.22 736.71) rotate(416.44) scale(0.945 1)" text-anchor="middle">N</text><text transform="translate(568.15 741.06) rotate(415.71) scale(0.945 1)" text-anchor="middle">S</text><text transform="translate(571.14 745.38) rotate(414.99) scale(0.945 1)" text-anchor="middle">U</text><text transform="translate(574.3 749.83) rotate(414.23) scale(0.945 1)" text-anchor="middle">R</text><text transform="translate(577.52 754.24) rotate(413.48) scale(0.945 1)" text-anchor="middle">A</text><text transform="translate(580.8 758.61) rotate(412.72) scale(0.945 1)" text-anchor="middle">N</text><text transform="translate(584.13 762.93) rotate(411.97) scale(0.945 1)" text-anchor="middle">C</text><text transform="translate(587.39 767.05) rotate(411.24) scale(0.945 1)" text-anchor="middle">E</text></g><g class="sn"><text transform="translate(507.66 604.72) rotate(436.44) scale(0.945 1)" text-anchor="middle">H</text><text transform="translate(508.98 610.02) rotate(435.68) scale(0.945 1)" text-anchor="middle">U</text><text transform="translate(510.47 615.71) rotate(434.87) scale(0.945 1)" text-anchor="middle">M</text><text transform="translate(512.04 621.37) rotate(434.06) scale(0.945 1)" text-anchor="middle">A</text><text transform="translate(513.58 626.61) rotate(433.3) scale(0.945 1)" text-anchor="middle">N</text><text transform="translate(515.62 633.23) rotate(432.35) scale(0.945 1)" text-anchor="middle">2</text><text transform="translate(516.59 636.23) rotate(431.91) scale(0.945 1)" text-anchor="middle">.</text><text transform="translate(517.58 639.23) rotate(431.48) scale(0.945 1)" text-anchor="middle">0</text></g><g class="sn"><text transform="translate(516.07 400.02) rotate(285.24) scale(0.945 1)" text-anchor="middle">H</text><text transform="translate(517.49 394.97) rotate(285.97) scale(0.945 1)" text-anchor="middle">E</text><text transform="translate(518.96 389.93) rotate(286.71) scale(0.945 1)" text-anchor="middle">A</text><text transform="translate(520.44 385.11) rotate(287.41) scale(0.945 1)" text-anchor="middle">L</text><text transform="translate(521.85 380.71) rotate(288.06) scale(0.945 1)" text-anchor="middle">T</text><text transform="translate(523.44 375.93) rotate(288.76) scale(0.945 1)" text-anchor="middle">H</text></g><g class="sn"><text transform="translate(630.69 209.38) rotate(316.79) scale(0.945 1)" text-anchor="middle">F</text><text transform="translate(634.54 205.81) rotate(317.53) scale(0.945 1)" text-anchor="middle">O</text><text transform="translate(638.9 201.87) rotate(318.35) scale(0.945 1)" text-anchor="middle">O</text><text transform="translate(643.17 198.14) rotate(319.15) scale(0.945 1)" text-anchor="middle">D</text></g><g class="sn"><text transform="translate(744.15 133.95) rotate(335.97) scale(0.945 1)" text-anchor="middle">F</text><text transform="translate(747.22 132.59) rotate(336.44) scale(0.945 1)" text-anchor="middle">I</text><text transform="translate(750.69 131.1) rotate(336.97) scale(0.945 1)" text-anchor="middle">N</text><text transform="translate(755.73 128.99) rotate(337.73) scale(0.945 1)" text-anchor="middle">A</text><text transform="translate(760.8 126.96) rotate(338.5) scale(0.945 1)" text-anchor="middle">N</text><text transform="translate(765.89 124.99) rotate(339.26) scale(0.945 1)" text-anchor="middle">C</text><text transform="translate(770.82 123.17) rotate(340) scale(0.945 1)" text-anchor="middle">E</text></g><g class="sn"><text transform="translate(818.28 109.08) rotate(346.94) scale(0.945 1)" text-anchor="middle">F</text><text transform="translate(823.2 107.97) rotate(347.65) scale(0.945 1)" text-anchor="middle">A</text><text transform="translate(828.33 106.88) rotate(348.38) scale(0.945 1)" text-anchor="middle">S</text><text transform="translate(833.48 105.86) rotate(349.12) scale(0.945 1)" text-anchor="middle">H</text><text transform="translate(837.2 105.16) rotate(349.65) scale(0.945 1)" text-anchor="middle">I</text><text transform="translate(841.13 104.46) rotate(350.21) scale(0.945 1)" text-anchor="middle">O</text><text transform="translate(846.72 103.53) rotate(351) scale(0.945 1)" text-anchor="middle">N</text></g>
</g>
<g class="ic">
<g transform="translate(939.5 82.2) rotate(4)"><rect x="-6.6" y="0.9" width="2.7" height="5.4" rx="0.5"/><path d="M-3.9,1.9 L-0.5,1.3 Q1.2,1.5 2.4,2.7 L5.2,2.5 Q6.8,3 5.8,4.6 L1.2,6.2 L-3.9,5.7"/><path d="M0.2,3.3 L3.4,3.5"/><path d="M1.2,0.4 Q-2.2,-4.5 -0.2,-6.8 Q4.8,-5.5 4.6,0.2 Q3,1.2 1.2,0.4Z"/><path d="M1.2,-3.6 Q3,-0.8 4.6,2.3"/></g>
<g transform="translate(1078 115.5) rotate(23)"><g transform="translate(-4 -1.3)"><path d="M-3.5,-4 Q0,-2.4 3.5,-4 L3.6,0.2 Q3.2,4 0,4.6 Q-3.2,4 -3.6,0.2Z"/><path d="M-1.9,1.2 Q0,3 1.9,1.2"/><circle cx="-1.5" cy="-1" r="0.35"/><circle cx="1.5" cy="-1" r="0.35"/></g><g transform="translate(3.6 1.6) rotate(12)"><path d="M-3.5,-4 Q0,-2.4 3.5,-4 L3.6,0.2 Q3.2,4 0,4.6 Q-3.2,4 -3.6,0.2Z"/><path d="M-1.8,2.6 Q0,1.1 1.8,2.6"/><circle cx="-1.5" cy="-0.8" r="0.35"/><circle cx="1.5" cy="-0.8" r="0.35"/></g></g>
<g transform="translate(1168.1 165.9) rotate(37)"><path d="M-2.2,3.8 Q-2.4,2.6 -3.3,1.6 A4.2,4.2 0 1 1 3.7,1.6 Q2.8,2.6 2.6,3.8Z"/><path d="M-2,5 H2.4 M-1.6,6.2 H2 M-0.8,7.3 H1.2" stroke-width="1"/><path d="M1,-2.8 L-0.9,-0.4 H1.2 L-0.4,1.8"/><g fill="#e8193f" stroke="none"><circle cx="0.1" cy="-7.1" r="0.6"/><circle cx="-4.6" cy="-4.9" r="0.6"/><circle cx="4.8" cy="-5.5" r="0.5"/><circle cx="-6" cy="0" r="0.5"/><circle cx="6.4" cy="-0.3" r="0.5"/></g></g>
<g transform="translate(1227.8 222.4) rotate(48)"><path d="M-7.6,-2.2 L0,-5.4 L7.6,-2.2 L0,1 Z"/><path d="M-4.2,-0.6 V3 Q0,6 4.2,3 V-0.6"/><path d="M-7.6,-2.2 V3.6"/></g>
<g transform="translate(1275.9 288.9) rotate(59)"><path d="M-4.6,1.2 Q-7.2,0.8 -6.6,-1.8 Q-6,-3.6 -4,-3.4 Q-3.2,-6.8 0.2,-6.6 Q3.4,-6.6 4,-3.6 Q7,-3.4 6.8,-0.6 Q6.6,1.4 4.4,1.2"/><path d="M0,-0.6 V2.8 M0,2.8 L-4,6.6 M0,2.8 L4,6.6 M0,2.8 V7.6 M-3.4,2.6 H3.4"/><g fill="#e8193f" stroke="none"><circle cx="0" cy="-0.8" r="1.5"/><circle cx="0" cy="2.8" r="0.9"/><circle cx="-4.2" cy="6.8" r="0.7"/><circle cx="4.2" cy="6.8" r="0.7"/><circle cx="0" cy="7.8" r="0.7"/><circle cx="-3.6" cy="2.6" r="0.6"/><circle cx="3.6" cy="2.6" r="0.6"/></g></g>
<g transform="translate(1304.9 348.6) rotate(68)"><g transform="scale(0.85)"><path d="M-5.4,-6.6 H5.4 V-4.8 H-5.4Z M-4.4,-4.8 H4.4 V-3.4 H-4.4Z"/><path d="M-3.6,-3.4 V4.2 M-1.2,-3.4 V4.2 M1.2,-3.4 V4.2 M3.6,-3.4 V4.2"/><path d="M-4.4,4.2 H4.4 V5.4 H-4.4Z M-5.6,5.4 H5.6 V6.8 H-5.6Z"/></g></g>
<g transform="translate(1323.4 413.9) rotate(77)"><path d="M-6.8,6.6 H6.8"/><path d="M-5.8,6.6 V-0.6 L-4,-2.6 L-2.2,-0.6 V6.6"/><path d="M-2.2,6.6 V-4 L0,-7.4 L2.2,-4 V6.6"/><path d="M2.2,6.6 V-1.6 L4,-3.4 L5.8,-1.6 V6.6"/><path d="M-4,1 V1.8 M-4,3.2 V4 M0,-3 V-2 M0,-0.4 V0.6 M0,2.2 V3.2 M4,0 V0.8 M4,2.4 V3.2 M-1,4.6 H1 V6.6"/></g>
<g transform="translate(1332.5 478.5) rotate(86)"><rect x="-6.4" y="-4.2" width="12.8" height="9.4" rx="1.4"/><path d="M-2.6,-4.2 V-5.4 Q-2.6,-6 -2,-6 H2 Q2.6,-6 2.6,-5.4 V-4.2"/><path d="M-6.4,0.6 H-1.2 M1.2,0.6 H6.4"/><rect x="-1.2" y="-0.4" width="2.4" height="2" rx="0.4"/></g>
<g transform="translate(1333.8 536.9) rotate(0)"><circle cx="-2.7" cy="-3.9" r="3.5"/><circle cx="-2.7" cy="-4.2" r="1.7"/><path d="M-2.6,-0.2 L2.4,-1 Q3.8,-1 4,0.4 L4.2,5 Q4,6.4 2.6,6.6 L-1,6.9 Q-2.4,6.8 -2.5,5.4Z"/><path d="M3.9,1.8 L6.7,0.3 M4.1,5.4 L6.7,6.9"/></g>
<g transform="translate(1325 602.2) rotate(0)"><circle cx="-2.7" cy="-3.7" r="3.6"/><circle cx="-2.7" cy="-3.7" r="1.7"/><path d="M-6.4,0.6 Q-7,1.8 -6.2,3 L-3.9,6.9 L1.2,4.4 L6.6,1.8 L3.8,-4.9 L1.2,-2.6"/><path d="M-4.8,2.4 L-0.6,0.6 M1.4,1.6 L4.6,0.2 M-3.6,4.6 L0.2,2.8"/></g>
<g transform="translate(1261.8 746.7) rotate(-56)"><circle cx="-4.6" cy="-3" r="1.7"/><circle cx="0" cy="-5" r="1.9"/><circle cx="4.6" cy="-3" r="1.7"/><path d="M-7.6,6.6 V1.6 Q-7.4,-0.4 -4.6,-0.4 Q-2.6,-0.4 -2.4,1.2"/><path d="M7.6,6.6 V1.6 Q7.4,-0.4 4.6,-0.4 Q2.6,-0.4 2.4,1.2"/><path d="M-3.4,7.4 V0.8 Q-3.2,-2.2 0,-2.2 Q3.2,-2.2 3.4,0.8 V7.4"/><path d="M-7.6,6.6 H-3.4 M3.4,6.6 H7.6 M-3.4,7.4 H3.4 M-1.4,2 V7.4 M1.4,2 V7.4"/></g>
<g transform="translate(1142.2 863.6) rotate(-20)"><g transform="scale(0.86)"><circle cx="-0.6" cy="-5.6" r="1.8"/><path d="M-3.6,7.2 V0 Q-3.4,-3 -0.6,-3 Q2,-3 2.6,-0.6 L3.8,2"/><circle cx="2.6" cy="1.2" r="1.3" fill="#e8193f"/><path d="M0.6,7.2 V4.4 Q0.8,2.8 2.6,2.8 Q4.4,2.8 4.6,4.4 V7.2" stroke-width="1.1"/><path d="M-3.6,7.2 H4.6 M-1.6,1 V7.2" stroke-width="1.1"/></g></g>
<g transform="translate(1028.1 914.5) rotate(-16)"><path d="M-7.4,3.4 V0.4 Q-7.2,-0.8 -5.4,-1 L-4.4,-1.2 Q-3,-5.2 0.6,-5.2 Q4,-5.2 5,-1.4 Q7.4,-1 7.5,0.6 V3 H5.4 M2,3.2 H-2.2 M-5.6,3.4 H-7.4"/><circle cx="-3.9" cy="3.1" r="1.7"/><circle cx="3.7" cy="3" r="1.7"/><path d="M-3,-1.2 Q-2.2,-3.8 0.4,-3.9 V-1.2Z M1.6,-3.8 Q3.4,-3.4 3.8,-1.3 H1.6Z"/></g>
<g transform="translate(911 932.5) rotate(0)"><rect x="-3.9" y="-6.3" width="7.6" height="12.5" rx="0.6"/><path d="M-3.9,-4.6 H3.7 M-3.9,3.6 H3.7 M-3.9,4.9 H3.7" /><circle cx="1.6" cy="-0.8" r="2.6"/><circle cx="1.6" cy="-0.8" r="1"/><path d="M1.6,-0.8 L4.4,-3.4 M-6,-1.4 H-4.6 M-5.3,-2.1 V-0.7"/><g fill="#e8193f" stroke="none"><circle cx="-2.2" cy="-2.8" r="0.5"/><circle cx="-2.9" cy="1.8" r="0.45"/><circle cx="3.6" cy="-3.4" r="0.6"/></g></g>
<g transform="translate(809.4 917.9) rotate(14)"><path d="M0,5 L-4.4,0.4 Q-6,-1.8 -4.6,-3.6 Q-2.6,-5.4 0,-2.8 Q2.6,-5.4 4.6,-3.6 Q6,-1.8 4.4,0.4Z" stroke-width="1"/></g>
<g transform="translate(659.9 851.7) rotate(36)"><path d="M0,-7 V6.4 M-3,6.6 H3 M-5.6,-4.6 Q0,-6.6 5.6,-4.6"/><path d="M-5.6,-4.6 L-7.6,1.2 M-5.6,-4.6 L-3.6,1.2 M5.6,-4.6 L3.6,1.2 M5.6,-4.6 L7.6,1.2"/><path d="M-8,1.2 H-3.2 Q-3.6,3.6 -5.6,3.6 Q-7.6,3.6 -8,1.2Z M3.2,1.2 H8 Q7.6,3.6 5.6,3.6 Q3.6,3.6 3.2,1.2Z" fill="#e8193f" fill-opacity="0.5"/><circle cx="0" cy="-6.6" r="0.9" fill="#e8193f"/></g>
<g transform="translate(566.7 758.1) rotate(54)"><rect x="-6.6" y="-6" width="13.2" height="11.6" rx="1.6"/><path d="M-4.6,-6 V5.6 M-6.6,3.4 H6.6"/><path d="M-2.2,-3.6 Q0.8,-2.8 3.8,-3.6 V-0.6 Q3.6,2 0.8,3 Q-2,2 -2.2,-0.6Z"/></g>
<g transform="translate(503.6 625.3) rotate(0)"><path d="M-5.2,-0.8 Q-5,-3.2 -2.4,-4.3 Q1.6,-5.4 4.2,-2.6 Q6.2,0.8 3.6,3.4 Q1.2,5 -1.6,3.9 L-4.2,4.3" stroke-width="0.9"/><path d="M-5.4,-1.2 L-4.6,-0.4"/></g>
<g transform="translate(504.9 383.4) rotate(-73)"><path d="M0,5.8 L-4.8,0.8 Q-6.6,-1.8 -5,-3.9 Q-2.8,-5.8 0,-3 Q2.8,-5.8 5,-3.9 Q6.6,-1.8 4.8,0.8Z"/><path d="M-5.4,0.2 H-1.6 L-0.6,-1.6 L0.6,2 L1.6,0.2 H3.4"/></g>
<g transform="translate(625.9 191.7) rotate(-42)"><circle cx="0" cy="0" r="5.9"/><circle cx="0" cy="0" r="4"/><circle cx="0" cy="0" r="2.1"/><path d="M0,0 L6.6,6 M-4.5,2.8 L-6.9,5.4" /><circle cx="0" cy="0" r="0.9" fill="#e8193f"/></g>
<g transform="translate(751.2 111.2) rotate(-22)"><circle cx="0" cy="-3.4" r="3.7"/><circle cx="-3.6" cy="3.2" r="3.5"/><circle cx="3.7" cy="3.2" r="3.5"/><path d="M-2.2,-5.4 L1.4,-0.8 M-0.4,-6.4 L2.8,-2.2 M-2.9,-3 L-0.6,-0.2"/><path d="M-5.8,1.6 L-2.4,6 M-4,0.4 L-0.8,4.6 M-6.4,3.8 L-4.4,6.2"/><path d="M1.6,1.6 L5,6 M3.4,0.4 L6.6,4.6 M0.9,3.8 L2.9,6.2"/></g>
<g transform="translate(829.4 89) rotate(-11)"><path d="M-2.4,-6 Q0,-4.4 2.4,-6 L6.6,-3.6 L5,-1.2 L3.4,-2 M-3.4,-2 L-5,-1.2 L-6.6,-3.6 Z" /><path d="M-3.4,-2 V1.4"/><path d="M-5.4,2.4 Q-2,0.4 0.6,2.4 L5,-1 L6.6,-0.8 V5 H5.4 V2.6 L1,6 Q-3.4,7 -5.6,4.8 Z"/><path d="M-5.2,4 Q-2,5 1.2,3.6"/></g>
</g>
<text x="27.2" y="100.3" font-size="66.4" font-weight="700" textLength="368.8" lengthAdjust="spacingAndGlyphs" fill="#000" stroke="#000" stroke-width="1.9" stroke-linejoin="round">Future scan</text>
<text x="26" y="183.2" font-size="21" font-weight="700" fill="#f90840" stroke="#f90840" stroke-width="0.5" textLength="109" lengthAdjust="spacingAndGlyphs">STEP ONE</text>
<text x="26" y="213.7" font-size="21.6" fill="#1a1a1a" stroke="#1a1a1a" stroke-width="0.3" textLength="354" lengthAdjust="spacingAndGlyphs">Pick a number from any sector and</text>
<text x="26" y="243.8" font-size="21.6" fill="#1a1a1a" stroke="#1a1a1a" stroke-width="0.3" textLength="288" lengthAdjust="spacingAndGlyphs">brainstorm about that future</text>
<text x="26" y="273.9" font-size="21.6" fill="#1a1a1a" stroke="#1a1a1a" stroke-width="0.3" textLength="91" lengthAdjust="spacingAndGlyphs">scenario.</text>
<text x="26" y="334.4" font-size="21" font-weight="700" fill="#f90840" stroke="#f90840" stroke-width="0.5" textLength="113" lengthAdjust="spacingAndGlyphs">STEP TWO</text>
<text x="26" y="364.9" font-size="21.6" fill="#1a1a1a" stroke="#1a1a1a" stroke-width="0.3" textLength="292" lengthAdjust="spacingAndGlyphs">Go deeper. Pick two or more</text>
<text x="26" y="395.0" font-size="21.6" fill="#1a1a1a" stroke="#1a1a1a" stroke-width="0.3" textLength="351" lengthAdjust="spacingAndGlyphs">numbers and combine them. Then</text>
<text x="26" y="425.3" font-size="21.6" fill="#1a1a1a" stroke="#1a1a1a" stroke-width="0.3" textLength="373" lengthAdjust="spacingAndGlyphs">stir (or shake up) conversation about</text>
<text x="26" y="455.5" font-size="21.6" fill="#1a1a1a" stroke="#1a1a1a" stroke-width="0.3" textLength="335" lengthAdjust="spacingAndGlyphs">where the world – and the future</text>
<text x="26" y="485.9" font-size="21.6" fill="#1a1a1a" stroke="#1a1a1a" stroke-width="0.3" textLength="202" lengthAdjust="spacingAndGlyphs">market – is headed.</text>
<text x="34.6" y="790.5" font-size="27" font-weight="700" fill="#1a1a1a" stroke="#1a1a1a" stroke-width="0.5" textLength="308" lengthAdjust="spacingAndGlyphs">Considered normal in:</text>
<rect x="34.4" y="833.3" width="22.6" height="164.6" fill="#ae1f33"/>
<rect x="61.3" y="887.9" width="22.9" height="110.1" fill="#ea1b45"/>
<rect x="88.2" y="942.2" width="22.9" height="56" fill="#ec3863"/>
<path d="M33.8,997.4 L473,999.2" stroke="#222" stroke-width="1.1" fill="none"/>
<text x="74" y="865.3" font-size="19.4" font-weight="700" fill="#1a1a1a" stroke="#1a1a1a" stroke-width="0.3" textLength="135.5" lengthAdjust="spacingAndGlyphs">2065 onward</text>
<text x="101.9" y="921.9" font-size="19.4" font-weight="700" fill="#1a1a1a" stroke="#1a1a1a" stroke-width="0.3" textLength="122.6" lengthAdjust="spacingAndGlyphs">2045 - 2065</text>
<text x="129.9" y="978.5" font-size="19.4" font-weight="700" fill="#1a1a1a" stroke="#1a1a1a" stroke-width="0.3" textLength="122.6" lengthAdjust="spacingAndGlyphs">2025 - 2045</text>
<text x="1271.8" y="53.3" font-size="35.6" font-weight="700" fill="#231815" stroke="#231815" stroke-width="0.9" textLength="156.4" lengthAdjust="spacingAndGlyphs">MARKER</text>
<text x="1434.2" y="47.2" font-size="26.6" fill="#231815" textLength="87.5" lengthAdjust="spacingAndGlyphs">Design</text>
<text x="1433.9" y="70.9" font-size="26.6" fill="#231815" textLength="57.5" lengthAdjust="spacingAndGlyphs">Edu.</text>
<text x="887.3" y="500.8" font-size="16.2" font-weight="700" fill="#1a1a1a" textLength="43.6" lengthAdjust="spacing">150+</text>
<text x="857" y="520.6" font-size="16.4" font-weight="700" fill="#1a1a1a" textLength="108.3" lengthAdjust="spacingAndGlyphs">Future trends</text>
<rect x="866.8" y="33.6" width="4" height="4" fill="#e8193f"/>
<path d="M869.3,39.5 V113" stroke="#333" stroke-width="1.1"/>
<text x="876.5" y="38.6" font-size="8.2" font-weight="700" fill="#000" textLength="43" lengthAdjust="spacingAndGlyphs">Start here</text>
<text x="548.4" y="918.5" font-size="10.2" font-weight="700" fill="#1a1a1a" textLength="115" lengthAdjust="spacingAndGlyphs">Considered normal in:</text>
<rect x="548.9" y="934.5" width="8" height="59.4" fill="#ae1f33"/>
<rect x="558.6" y="954.1" width="8.3" height="39.8" fill="#ea1b45"/>
<rect x="568.5" y="974.1" width="8.4" height="19.8" fill="#ec3863"/>
<text x="563.6" y="945.9" font-size="7.2" font-weight="700" fill="#1a1a1a" textLength="48.6" lengthAdjust="spacingAndGlyphs">2065 onward</text>
<text x="573.7" y="965.9" font-size="7.2" font-weight="700" fill="#1a1a1a" textLength="44.6" lengthAdjust="spacingAndGlyphs">2045 - 2065</text>
<text x="584.1" y="987.3" font-size="7.2" font-weight="700" fill="#1a1a1a" textLength="44.2" lengthAdjust="spacingAndGlyphs">2025 - 2045</text>
<path d="M549,993.8 L715,994.4 L859.15,636.05" stroke="#111" stroke-width="0.85" fill="none" stroke-linejoin="miter"/>
<path d="M-0.4,-2 L5.2,0 L-0.4,2 L1,0Z" fill="#111" transform="translate(845.20 670.86) rotate(111.8)"/>
<path d="M-0.4,-2 L5.2,0 L-0.4,2 L1,0Z" fill="#111" transform="translate(831.05 706.13) rotate(111.8)"/>
<path d="M-0.4,-2 L5.2,0 L-0.4,2 L1,0Z" fill="#111" transform="translate(815.42 745.11) rotate(111.8)"/>
</svg>
</body></html>
